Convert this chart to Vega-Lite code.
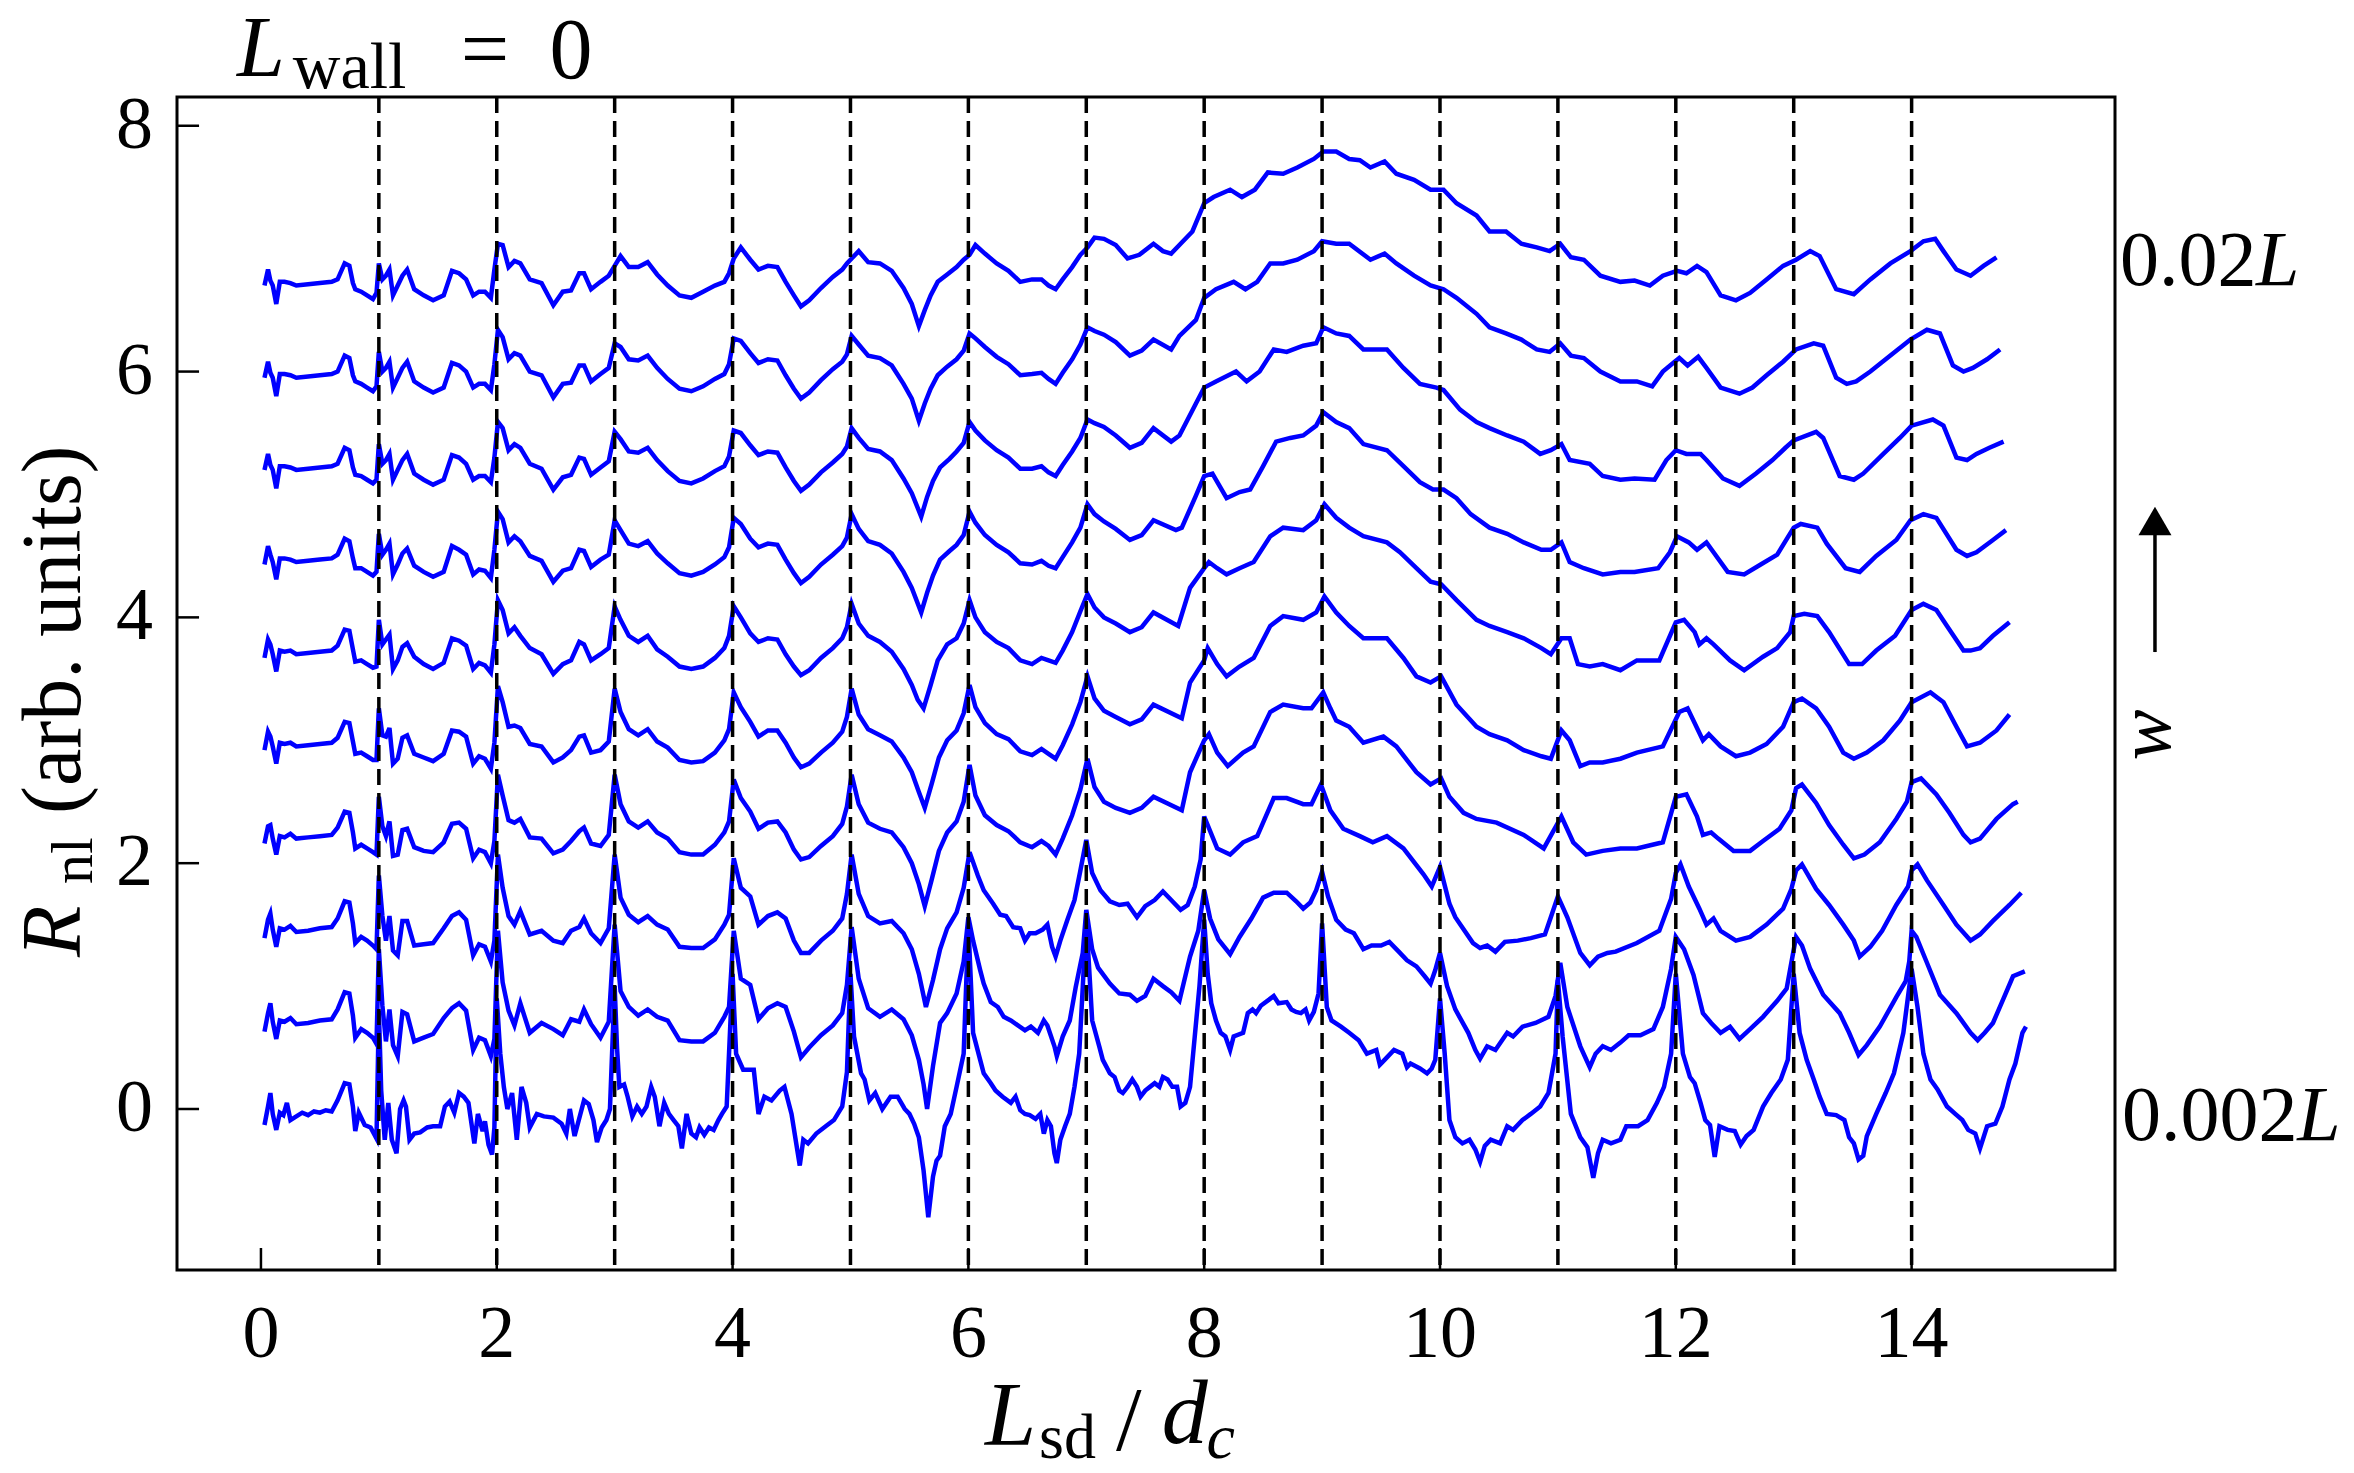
{
  "$schema": "https://vega.github.io/schema/vega-lite/v6.json",
  "width": 1938,
  "height": 1173,
  "autosize": {"type": "none"},
  "padding": {"left": 177, "top": 97, "right": 239, "bottom": 203},
  "background": "white",
  "datasets": {
    "integers": [{"n":1},{"n":2},{"n":3},{"n":4},{"n":5},{"n":6},{"n":7},{"n":8},{"n":9},{"n":10},{"n":11},{"n":12},{"n":13},{"n":14}],
    "xticks": [{"t":0},{"t":2},{"t":4},{"t":6},{"t":8},{"t":10},{"t":12},{"t":14}],
    "yticks": [{"t":0},{"t":2},{"t":4},{"t":6},{"t":8}],
    "curves": [
{"k":0,"x":0.03,"y":-0.13},{"k":0,"x":0.06,"y":0.02},{"k":0,"x":0.08,"y":0.13},{"k":0,"x":0.10,"y":-0.04},{"k":0,"x":0.13,"y":-0.17},{"k":0,"x":0.16,"y":-0.03},{"k":0,"x":0.19,"y":-0.05},{"k":0,"x":0.22,"y":0.05},{"k":0,"x":0.25,"y":-0.09},{"k":0,"x":0.30,"y":-0.06},{"k":0,"x":0.35,"y":-0.03},{"k":0,"x":0.40,"y":-0.05},{"k":0,"x":0.45,"y":-0.02},{"k":0,"x":0.50,"y":-0.03},{"k":0,"x":0.55,"y":-0.01},{"k":0,"x":0.60,"y":-0.02},{"k":0,"x":0.65,"y":0.07},{"k":0,"x":0.71,"y":0.21},{"k":0,"x":0.75,"y":0.20},{"k":0,"x":0.78,"y":0.02},{"k":0,"x":0.80,"y":-0.18},{"k":0,"x":0.83,"y":-0.03},{"k":0,"x":0.88,"y":-0.13},{"k":0,"x":0.93,"y":-0.15},{"k":0,"x":0.98,"y":-0.24},
{"k":0,"x":1.00,"y":0.80},{"k":0,"x":1.02,"y":0.15},{"k":0,"x":1.05,"y":-0.25},{"k":0,"x":1.08,"y":0.05},{"k":0,"x":1.11,"y":-0.25},{"k":0,"x":1.15,"y":-0.36},{"k":0,"x":1.18,"y":0.00},{"k":0,"x":1.21,"y":0.07},{"k":0,"x":1.23,"y":0.02},{"k":0,"x":1.26,"y":-0.25},{"k":0,"x":1.30,"y":-0.20},{"k":0,"x":1.35,"y":-0.19},{"k":0,"x":1.41,"y":-0.15},{"k":0,"x":1.46,"y":-0.14},{"k":0,"x":1.52,"y":-0.14},{"k":0,"x":1.56,"y":0.02},{"k":0,"x":1.60,"y":0.06},{"k":0,"x":1.64,"y":-0.03},{"k":0,"x":1.68,"y":0.13},{"k":0,"x":1.72,"y":0.10},{"k":0,"x":1.76,"y":0.05},{"k":0,"x":1.81,"y":-0.28},{"k":0,"x":1.84,"y":-0.04},{"k":0,"x":1.88,"y":-0.18},{"k":0,"x":1.90,"y":-0.10},{"k":0,"x":1.93,"y":-0.29},{"k":0,"x":1.96,"y":-0.37},{"k":0,"x":1.98,"y":-0.15},
{"k":0,"x":2.00,"y":0.90},{"k":0,"x":2.03,"y":0.45},{"k":0,"x":2.06,"y":0.18},{"k":0,"x":2.09,"y":0.00},{"k":0,"x":2.13,"y":0.13},{"k":0,"x":2.17,"y":-0.25},{"k":0,"x":2.21,"y":0.18},{"k":0,"x":2.25,"y":0.05},{"k":0,"x":2.28,"y":-0.15},{"k":0,"x":2.34,"y":-0.04},{"k":0,"x":2.40,"y":-0.06},{"k":0,"x":2.48,"y":-0.07},{"k":0,"x":2.55,"y":-0.12},{"k":0,"x":2.59,"y":-0.20},{"k":0,"x":2.62,"y":0.00},{"k":0,"x":2.66,"y":-0.22},{"k":0,"x":2.74,"y":0.07},{"k":0,"x":2.78,"y":0.04},{"k":0,"x":2.82,"y":-0.09},{"k":0,"x":2.85,"y":-0.27},{"k":0,"x":2.89,"y":-0.15},{"k":0,"x":2.93,"y":-0.09},{"k":0,"x":2.96,"y":0.00},
{"k":0,"x":3.00,"y":1.00},{"k":0,"x":3.02,"y":0.50},{"k":0,"x":3.04,"y":0.18},{"k":0,"x":3.08,"y":0.20},{"k":0,"x":3.11,"y":0.10},{"k":0,"x":3.15,"y":-0.06},{"k":0,"x":3.19,"y":0.02},{"k":0,"x":3.23,"y":-0.04},{"k":0,"x":3.27,"y":0.02},{"k":0,"x":3.31,"y":0.18},{"k":0,"x":3.34,"y":0.10},{"k":0,"x":3.38,"y":-0.14},{"k":0,"x":3.42,"y":0.05},{"k":0,"x":3.46,"y":-0.04},{"k":0,"x":3.50,"y":-0.09},{"k":0,"x":3.54,"y":-0.14},{"k":0,"x":3.57,"y":-0.32},{"k":0,"x":3.61,"y":-0.04},{"k":0,"x":3.65,"y":-0.20},{"k":0,"x":3.69,"y":-0.23},{"k":0,"x":3.72,"y":-0.15},{"k":0,"x":3.76,"y":-0.21},{"k":0,"x":3.80,"y":-0.15},{"k":0,"x":3.84,"y":-0.17},{"k":0,"x":3.88,"y":-0.09},{"k":0,"x":3.91,"y":-0.04},{"k":0,"x":3.95,"y":0.02},
{"k":0,"x":4.00,"y":1.10},{"k":0,"x":4.03,"y":0.45},{"k":0,"x":4.09,"y":0.32},{"k":0,"x":4.13,"y":0.32},{"k":0,"x":4.18,"y":0.32},{"k":0,"x":4.22,"y":-0.04},{"k":0,"x":4.27,"y":0.10},{"k":0,"x":4.33,"y":0.07},{"k":0,"x":4.40,"y":0.15},{"k":0,"x":4.44,"y":0.18},{"k":0,"x":4.50,"y":-0.04},{"k":0,"x":4.57,"y":-0.46},{"k":0,"x":4.60,"y":-0.25},{"k":0,"x":4.64,"y":-0.28},{"k":0,"x":4.71,"y":-0.20},{"k":0,"x":4.79,"y":-0.14},{"k":0,"x":4.86,"y":-0.09},{"k":0,"x":4.93,"y":0.02},{"k":0,"x":4.97,"y":0.30},
{"k":0,"x":5.00,"y":1.10},{"k":0,"x":5.03,"y":0.59},{"k":0,"x":5.09,"y":0.29},{"k":0,"x":5.12,"y":0.24},{"k":0,"x":5.16,"y":0.07},{"k":0,"x":5.21,"y":0.13},{"k":0,"x":5.27,"y":0.00},{"k":0,"x":5.34,"y":0.10},{"k":0,"x":5.40,"y":0.10},{"k":0,"x":5.46,"y":0.00},{"k":0,"x":5.50,"y":-0.04},{"k":0,"x":5.54,"y":-0.12},{"k":0,"x":5.58,"y":-0.23},{"k":0,"x":5.62,"y":-0.50},{"k":0,"x":5.66,"y":-0.88},{"k":0,"x":5.70,"y":-0.55},{"k":0,"x":5.73,"y":-0.42},{"k":0,"x":5.76,"y":-0.38},{"k":0,"x":5.80,"y":-0.14},{"k":0,"x":5.85,"y":-0.04},{"k":0,"x":5.90,"y":0.18},{"k":0,"x":5.96,"y":0.45},
{"k":0,"x":6.00,"y":1.50},{"k":0,"x":6.04,"y":0.62},{"k":0,"x":6.10,"y":0.40},{"k":0,"x":6.13,"y":0.29},{"k":0,"x":6.19,"y":0.21},{"k":0,"x":6.23,"y":0.15},{"k":0,"x":6.29,"y":0.10},{"k":0,"x":6.36,"y":0.05},{"k":0,"x":6.40,"y":0.10},{"k":0,"x":6.44,"y":-0.01},{"k":0,"x":6.48,"y":-0.04},{"k":0,"x":6.52,"y":-0.05},{"k":0,"x":6.57,"y":-0.08},{"k":0,"x":6.61,"y":-0.04},{"k":0,"x":6.64,"y":-0.20},{"k":0,"x":6.67,"y":-0.09},{"k":0,"x":6.70,"y":-0.14},{"k":0,"x":6.73,"y":-0.36},{"k":0,"x":6.75,"y":-0.44},{"k":0,"x":6.78,"y":-0.25},{"k":0,"x":6.82,"y":-0.14},{"k":0,"x":6.86,"y":-0.04},{"k":0,"x":6.90,"y":0.18},{"k":0,"x":6.94,"y":0.45},{"k":0,"x":6.97,"y":0.99},
{"k":0,"x":7.00,"y":1.55},{"k":0,"x":7.05,"y":0.72},{"k":0,"x":7.11,"y":0.51},{"k":0,"x":7.14,"y":0.40},{"k":0,"x":7.20,"y":0.29},{"k":0,"x":7.24,"y":0.26},{"k":0,"x":7.28,"y":0.15},{"k":0,"x":7.31,"y":0.13},{"k":0,"x":7.35,"y":0.18},{"k":0,"x":7.39,"y":0.24},{"k":0,"x":7.43,"y":0.18},{"k":0,"x":7.46,"y":0.10},{"k":0,"x":7.50,"y":0.15},{"k":0,"x":7.54,"y":0.18},{"k":0,"x":7.58,"y":0.21},{"k":0,"x":7.62,"y":0.18},{"k":0,"x":7.65,"y":0.26},{"k":0,"x":7.69,"y":0.24},{"k":0,"x":7.73,"y":0.18},{"k":0,"x":7.77,"y":0.18},{"k":0,"x":7.80,"y":0.02},{"k":0,"x":7.84,"y":0.05},{"k":0,"x":7.88,"y":0.18},{"k":0,"x":7.92,"y":0.59},{"k":0,"x":7.96,"y":1.00},
{"k":0,"x":8.00,"y":1.54},{"k":0,"x":8.03,"y":1.10},{"k":0,"x":8.06,"y":0.86},{"k":0,"x":8.10,"y":0.72},{"k":0,"x":8.14,"y":0.62},{"k":0,"x":8.18,"y":0.59},{"k":0,"x":8.22,"y":0.48},{"k":0,"x":8.25,"y":0.59},{"k":0,"x":8.33,"y":0.62},{"k":0,"x":8.37,"y":0.78},{"k":0,"x":8.41,"y":0.81},{"k":0,"x":8.44,"y":0.78},{"k":0,"x":8.48,"y":0.84},{"k":0,"x":8.55,"y":0.89},{"k":0,"x":8.59,"y":0.92},{"k":0,"x":8.63,"y":0.86},{"k":0,"x":8.70,"y":0.87},{"k":0,"x":8.74,"y":0.81},{"k":0,"x":8.78,"y":0.79},{"k":0,"x":8.82,"y":0.78},{"k":0,"x":8.86,"y":0.81},{"k":0,"x":8.89,"y":0.72},{"k":0,"x":8.93,"y":0.79},{"k":0,"x":8.97,"y":0.94},
{"k":0,"x":9.00,"y":1.51},{"k":0,"x":9.04,"y":0.83},{"k":0,"x":9.08,"y":0.72},{"k":0,"x":9.16,"y":0.67},{"k":0,"x":9.23,"y":0.62},{"k":0,"x":9.31,"y":0.56},{"k":0,"x":9.38,"y":0.45},{"k":0,"x":9.46,"y":0.48},{"k":0,"x":9.49,"y":0.36},{"k":0,"x":9.53,"y":0.40},{"k":0,"x":9.61,"y":0.48},{"k":0,"x":9.68,"y":0.45},{"k":0,"x":9.72,"y":0.34},{"k":0,"x":9.75,"y":0.37},{"k":0,"x":9.83,"y":0.33},{"k":0,"x":9.89,"y":0.29},{"k":0,"x":9.93,"y":0.33},{"k":0,"x":9.96,"y":0.40},
{"k":0,"x":10.00,"y":0.90},{"k":0,"x":10.04,"y":0.45},{"k":0,"x":10.08,"y":-0.09},{"k":0,"x":10.13,"y":-0.23},{"k":0,"x":10.19,"y":-0.28},{"k":0,"x":10.25,"y":-0.25},{"k":0,"x":10.30,"y":-0.33},{"k":0,"x":10.34,"y":-0.43},{"k":0,"x":10.38,"y":-0.30},{"k":0,"x":10.43,"y":-0.25},{"k":0,"x":10.51,"y":-0.28},{"k":0,"x":10.57,"y":-0.14},{"k":0,"x":10.62,"y":-0.17},{"k":0,"x":10.70,"y":-0.09},{"k":0,"x":10.77,"y":-0.04},{"k":0,"x":10.85,"y":0.02},{"k":0,"x":10.92,"y":0.13},{"k":0,"x":10.98,"y":0.45},
{"k":0,"x":11.00,"y":1.05},{"k":0,"x":11.04,"y":0.59},{"k":0,"x":11.11,"y":-0.04},{"k":0,"x":11.19,"y":-0.23},{"k":0,"x":11.25,"y":-0.31},{"k":0,"x":11.30,"y":-0.56},{"k":0,"x":11.34,"y":-0.36},{"k":0,"x":11.38,"y":-0.25},{"k":0,"x":11.45,"y":-0.28},{"k":0,"x":11.53,"y":-0.25},{"k":0,"x":11.58,"y":-0.14},{"k":0,"x":11.68,"y":-0.14},{"k":0,"x":11.76,"y":-0.09},{"k":0,"x":11.84,"y":0.05},{"k":0,"x":11.90,"y":0.18},{"k":0,"x":11.96,"y":0.45},
{"k":0,"x":12.00,"y":1.10},{"k":0,"x":12.06,"y":0.45},{"k":0,"x":12.12,"y":0.26},{"k":0,"x":12.16,"y":0.21},{"k":0,"x":12.21,"y":0.05},{"k":0,"x":12.25,"y":-0.09},{"k":0,"x":12.29,"y":-0.13},{"k":0,"x":12.33,"y":-0.39},{"k":0,"x":12.37,"y":-0.14},{"k":0,"x":12.44,"y":-0.17},{"k":0,"x":12.50,"y":-0.18},{"k":0,"x":12.55,"y":-0.29},{"k":0,"x":12.60,"y":-0.22},{"k":0,"x":12.66,"y":-0.17},{"k":0,"x":12.74,"y":0.02},{"k":0,"x":12.81,"y":0.13},{"k":0,"x":12.89,"y":0.24},{"k":0,"x":12.95,"y":0.40},
{"k":0,"x":13.00,"y":1.10},{"k":0,"x":13.05,"y":0.62},{"k":0,"x":13.11,"y":0.40},{"k":0,"x":13.17,"y":0.24},{"k":0,"x":13.22,"y":0.10},{"k":0,"x":13.28,"y":-0.04},{"k":0,"x":13.36,"y":-0.05},{"k":0,"x":13.43,"y":-0.09},{"k":0,"x":13.47,"y":-0.23},{"k":0,"x":13.51,"y":-0.28},{"k":0,"x":13.55,"y":-0.41},{"k":0,"x":13.59,"y":-0.38},{"k":0,"x":13.62,"y":-0.22},{"k":0,"x":13.70,"y":-0.04},{"k":0,"x":13.78,"y":0.13},{"k":0,"x":13.85,"y":0.29},{"k":0,"x":13.93,"y":0.62},
{"k":0,"x":14.00,"y":1.14},{"k":0,"x":14.05,"y":0.83},{"k":0,"x":14.10,"y":0.45},{"k":0,"x":14.16,"y":0.24},{"k":0,"x":14.22,"y":0.16},{"k":0,"x":14.30,"y":0.02},{"k":0,"x":14.37,"y":-0.04},{"k":0,"x":14.43,"y":-0.09},{"k":0,"x":14.48,"y":-0.17},{"k":0,"x":14.54,"y":-0.20},{"k":0,"x":14.58,"y":-0.32},{"k":0,"x":14.64,"y":-0.14},{"k":0,"x":14.71,"y":-0.12},{"k":0,"x":14.77,"y":0.02},{"k":0,"x":14.83,"y":0.24},{"k":0,"x":14.88,"y":0.37},{"k":0,"x":14.94,"y":0.62},{"k":0,"x":14.97,"y":0.67},

{"k":1,"x":0.03,"y":0.63},{"k":1,"x":0.06,"y":0.78},{"k":1,"x":0.08,"y":0.86},{"k":1,"x":0.10,"y":0.71},{"k":1,"x":0.13,"y":0.57},{"k":1,"x":0.16,"y":0.72},{"k":1,"x":0.20,"y":0.71},{"k":1,"x":0.25,"y":0.74},{"k":1,"x":0.30,"y":0.69},{"k":1,"x":0.40,"y":0.70},{"k":1,"x":0.50,"y":0.72},{"k":1,"x":0.60,"y":0.73},{"k":1,"x":0.65,"y":0.81},{"k":1,"x":0.71,"y":0.95},{"k":1,"x":0.75,"y":0.94},{"k":1,"x":0.78,"y":0.76},{"k":1,"x":0.80,"y":0.58},{"k":1,"x":0.85,"y":0.65},{"k":1,"x":0.90,"y":0.62},{"k":1,"x":0.95,"y":0.58},{"k":1,"x":0.98,"y":0.53},
{"k":1,"x":1.00,"y":1.30},{"k":1,"x":1.03,"y":0.84},{"k":1,"x":1.06,"y":0.55},{"k":1,"x":1.09,"y":0.81},{"k":1,"x":1.12,"y":0.52},{"k":1,"x":1.16,"y":0.43},{"k":1,"x":1.20,"y":0.79},{"k":1,"x":1.24,"y":0.77},{"k":1,"x":1.30,"y":0.55},{"k":1,"x":1.38,"y":0.58},{"k":1,"x":1.46,"y":0.61},{"k":1,"x":1.55,"y":0.74},{"k":1,"x":1.62,"y":0.82},{"k":1,"x":1.68,"y":0.86},{"k":1,"x":1.74,"y":0.80},{"k":1,"x":1.80,"y":0.48},{"k":1,"x":1.85,"y":0.58},{"k":1,"x":1.90,"y":0.56},{"k":1,"x":1.95,"y":0.43},{"k":1,"x":1.98,"y":0.57},
{"k":1,"x":2.01,"y":1.45},{"k":1,"x":2.05,"y":1.03},{"k":1,"x":2.10,"y":0.80},{"k":1,"x":2.15,"y":0.68},{"k":1,"x":2.20,"y":0.86},{"k":1,"x":2.28,"y":0.62},{"k":1,"x":2.38,"y":0.70},{"k":1,"x":2.48,"y":0.65},{"k":1,"x":2.56,"y":0.60},{"k":1,"x":2.63,"y":0.73},{"k":1,"x":2.70,"y":0.71},{"k":1,"x":2.74,"y":0.81},{"k":1,"x":2.80,"y":0.69},{"k":1,"x":2.88,"y":0.58},{"k":1,"x":2.95,"y":0.71},
{"k":1,"x":3.00,"y":1.50},{"k":1,"x":3.05,"y":0.96},{"k":1,"x":3.12,"y":0.83},{"k":1,"x":3.20,"y":0.76},{"k":1,"x":3.28,"y":0.81},{"k":1,"x":3.36,"y":0.75},{"k":1,"x":3.45,"y":0.72},{"k":1,"x":3.55,"y":0.56},{"k":1,"x":3.65,"y":0.55},{"k":1,"x":3.75,"y":0.55},{"k":1,"x":3.85,"y":0.62},{"k":1,"x":3.93,"y":0.75},{"k":1,"x":3.97,"y":0.83},
{"k":1,"x":4.01,"y":1.45},{"k":1,"x":4.07,"y":1.06},{"k":1,"x":4.15,"y":1.01},{"k":1,"x":4.22,"y":0.73},{"k":1,"x":4.30,"y":0.82},{"k":1,"x":4.38,"y":0.86},{"k":1,"x":4.45,"y":0.83},{"k":1,"x":4.52,"y":0.63},{"k":1,"x":4.58,"y":0.42},{"k":1,"x":4.65,"y":0.50},{"k":1,"x":4.75,"y":0.60},{"k":1,"x":4.85,"y":0.68},{"k":1,"x":4.93,"y":0.78},{"k":1,"x":4.97,"y":1.01},
{"k":1,"x":5.01,"y":1.48},{"k":1,"x":5.07,"y":1.06},{"k":1,"x":5.15,"y":0.82},{"k":1,"x":5.25,"y":0.75},{"k":1,"x":5.35,"y":0.81},{"k":1,"x":5.45,"y":0.73},{"k":1,"x":5.52,"y":0.60},{"k":1,"x":5.58,"y":0.40},{"k":1,"x":5.62,"y":0.20},{"k":1,"x":5.65,"y":0.00},{"k":1,"x":5.70,"y":0.35},{"k":1,"x":5.76,"y":0.70},{"k":1,"x":5.82,"y":0.78},{"k":1,"x":5.90,"y":0.94},{"k":1,"x":5.96,"y":1.20},
{"k":1,"x":6.00,"y":1.56},{"k":1,"x":6.04,"y":1.37},{"k":1,"x":6.10,"y":1.13},{"k":1,"x":6.13,"y":1.02},{"k":1,"x":6.19,"y":0.87},{"k":1,"x":6.25,"y":0.83},{"k":1,"x":6.30,"y":0.75},{"k":1,"x":6.36,"y":0.72},{"k":1,"x":6.42,"y":0.68},{"k":1,"x":6.48,"y":0.64},{"k":1,"x":6.53,"y":0.67},{"k":1,"x":6.59,"y":0.62},{"k":1,"x":6.64,"y":0.72},{"k":1,"x":6.67,"y":0.68},{"k":1,"x":6.73,"y":0.51},{"k":1,"x":6.75,"y":0.43},{"k":1,"x":6.80,"y":0.59},{"k":1,"x":6.86,"y":0.72},{"k":1,"x":6.91,"y":0.99},{"k":1,"x":6.97,"y":1.27},
{"k":1,"x":7.00,"y":1.62},{"k":1,"x":7.05,"y":1.30},{"k":1,"x":7.10,"y":1.15},{"k":1,"x":7.20,"y":1.02},{"k":1,"x":7.28,"y":0.94},{"k":1,"x":7.37,"y":0.93},{"k":1,"x":7.43,"y":0.88},{"k":1,"x":7.50,"y":0.92},{"k":1,"x":7.57,"y":1.06},{"k":1,"x":7.65,"y":1.00},{"k":1,"x":7.72,"y":0.95},{"k":1,"x":7.79,"y":0.88},{"k":1,"x":7.88,"y":1.24},{"k":1,"x":7.95,"y":1.45},{"k":1,"x":8.00,"y":1.78},
{"k":1,"x":8.05,"y":1.55},{"k":1,"x":8.12,"y":1.38},{"k":1,"x":8.22,"y":1.26},{"k":1,"x":8.30,"y":1.40},{"k":1,"x":8.40,"y":1.55},{"k":1,"x":8.50,"y":1.72},{"k":1,"x":8.59,"y":1.76},{"k":1,"x":8.70,"y":1.76},{"k":1,"x":8.78,"y":1.69},{"k":1,"x":8.84,"y":1.63},{"k":1,"x":8.90,"y":1.68},{"k":1,"x":8.95,"y":1.78},{"k":1,"x":9.00,"y":1.93},
{"k":1,"x":9.05,"y":1.73},{"k":1,"x":9.12,"y":1.54},{"k":1,"x":9.20,"y":1.46},{"k":1,"x":9.27,"y":1.43},{"k":1,"x":9.35,"y":1.30},{"k":1,"x":9.42,"y":1.33},{"k":1,"x":9.50,"y":1.33},{"k":1,"x":9.57,"y":1.36},{"k":1,"x":9.65,"y":1.28},{"k":1,"x":9.72,"y":1.21},{"k":1,"x":9.80,"y":1.16},{"k":1,"x":9.87,"y":1.08},{"k":1,"x":9.92,"y":1.02},{"k":1,"x":9.96,"y":1.13},{"k":1,"x":10.00,"y":1.27},
{"k":1,"x":10.06,"y":1.00},{"k":1,"x":10.13,"y":0.81},{"k":1,"x":10.24,"y":0.62},{"k":1,"x":10.30,"y":0.48},{"k":1,"x":10.34,"y":0.41},{"k":1,"x":10.40,"y":0.51},{"k":1,"x":10.47,"y":0.48},{"k":1,"x":10.57,"y":0.62},{"k":1,"x":10.62,"y":0.59},{"k":1,"x":10.70,"y":0.67},{"k":1,"x":10.81,"y":0.70},{"k":1,"x":10.92,"y":0.75},{"k":1,"x":10.98,"y":0.92},{"k":1,"x":11.02,"y":1.19},
{"k":1,"x":11.08,"y":0.83},{"k":1,"x":11.19,"y":0.51},{"k":1,"x":11.27,"y":0.34},{"k":1,"x":11.32,"y":0.45},{"k":1,"x":11.38,"y":0.51},{"k":1,"x":11.45,"y":0.48},{"k":1,"x":11.53,"y":0.54},{"k":1,"x":11.60,"y":0.60},
{"k":1,"x":11.70,"y":0.60},{"k":1,"x":11.81,"y":0.65},{"k":1,"x":11.89,"y":0.83},{"k":1,"x":11.96,"y":1.14},{"k":1,"x":12.00,"y":1.40},{"k":1,"x":12.07,"y":1.30},{"k":1,"x":12.15,"y":1.09},{"k":1,"x":12.23,"y":0.78},{"k":1,"x":12.30,"y":0.70},{"k":1,"x":12.38,"y":0.62},{"k":1,"x":12.46,"y":0.67},{"k":1,"x":12.54,"y":0.57},{"k":1,"x":12.63,"y":0.65},{"k":1,"x":12.74,"y":0.75},{"k":1,"x":12.86,"y":0.88},{"k":1,"x":12.94,"y":0.98},{"k":1,"x":12.98,"y":1.19},{"k":1,"x":13.02,"y":1.40},{"k":1,"x":13.07,"y":1.33},{"k":1,"x":13.14,"y":1.14},{"k":1,"x":13.25,"y":0.93},{"k":1,"x":13.39,"y":0.78},{"k":1,"x":13.47,"y":0.62},{"k":1,"x":13.55,"y":0.44},{"k":1,"x":13.62,"y":0.52},{"k":1,"x":13.73,"y":0.67},{"k":1,"x":13.87,"y":0.91},{"k":1,"x":13.95,"y":1.04},{"k":1,"x":13.98,"y":1.20},{"k":1,"x":14.00,"y":1.45},{"k":1,"x":14.04,"y":1.40},{"k":1,"x":14.13,"y":1.19},{"k":1,"x":14.24,"y":0.93},{"k":1,"x":14.38,"y":0.78},{"k":1,"x":14.50,"y":0.62},{"k":1,"x":14.56,"y":0.56},{"k":1,"x":14.62,"y":0.62},{"k":1,"x":14.69,"y":0.70},{"k":1,"x":14.78,"y":0.90},{"k":1,"x":14.86,"y":1.08},{"k":1,"x":14.96,"y":1.12},

{"k":2,"x":0.03,"y":1.39},{"k":2,"x":0.06,"y":1.54},{"k":2,"x":0.08,"y":1.59},{"k":2,"x":0.10,"y":1.46},{"k":2,"x":0.13,"y":1.32},{"k":2,"x":0.16,"y":1.47},{"k":2,"x":0.20,"y":1.46},{"k":2,"x":0.25,"y":1.49},{"k":2,"x":0.30,"y":1.44},{"k":2,"x":0.40,"y":1.45},{"k":2,"x":0.50,"y":1.47},{"k":2,"x":0.60,"y":1.48},{"k":2,"x":0.65,"y":1.55},{"k":2,"x":0.71,"y":1.69},{"k":2,"x":0.75,"y":1.68},{"k":2,"x":0.78,"y":1.51},{"k":2,"x":0.80,"y":1.35},{"k":2,"x":0.85,"y":1.40},{"k":2,"x":0.90,"y":1.37},{"k":2,"x":0.95,"y":1.33},{"k":2,"x":0.98,"y":1.30},
{"k":2,"x":1.00,"y":1.90},{"k":2,"x":1.03,"y":1.57},{"k":2,"x":1.06,"y":1.37},{"k":2,"x":1.09,"y":1.57},{"k":2,"x":1.12,"y":1.29},{"k":2,"x":1.16,"y":1.25},{"k":2,"x":1.20,"y":1.53},{"k":2,"x":1.24,"y":1.53},{"k":2,"x":1.30,"y":1.33},{"k":2,"x":1.38,"y":1.34},{"k":2,"x":1.46,"y":1.35},{"k":2,"x":1.55,"y":1.47},{"k":2,"x":1.62,"y":1.57},{"k":2,"x":1.68,"y":1.60},{"k":2,"x":1.74,"y":1.54},{"k":2,"x":1.80,"y":1.25},{"k":2,"x":1.85,"y":1.34},{"k":2,"x":1.90,"y":1.32},{"k":2,"x":1.95,"y":1.20},{"k":2,"x":1.98,"y":1.37},
{"k":2,"x":2.01,"y":2.07},{"k":2,"x":2.05,"y":1.80},{"k":2,"x":2.10,"y":1.57},{"k":2,"x":2.15,"y":1.50},{"k":2,"x":2.20,"y":1.61},{"k":2,"x":2.28,"y":1.42},{"k":2,"x":2.38,"y":1.45},{"k":2,"x":2.48,"y":1.37},{"k":2,"x":2.56,"y":1.35},{"k":2,"x":2.63,"y":1.45},{"k":2,"x":2.70,"y":1.48},{"k":2,"x":2.74,"y":1.55},{"k":2,"x":2.80,"y":1.43},{"k":2,"x":2.88,"y":1.35},{"k":2,"x":2.95,"y":1.47},
{"k":2,"x":3.00,"y":2.07},{"k":2,"x":3.05,"y":1.72},{"k":2,"x":3.12,"y":1.58},{"k":2,"x":3.20,"y":1.52},{"k":2,"x":3.28,"y":1.57},{"k":2,"x":3.36,"y":1.50},{"k":2,"x":3.45,"y":1.46},{"k":2,"x":3.55,"y":1.32},{"k":2,"x":3.65,"y":1.31},{"k":2,"x":3.75,"y":1.31},{"k":2,"x":3.85,"y":1.38},{"k":2,"x":3.93,"y":1.50},{"k":2,"x":3.97,"y":1.58},
{"k":2,"x":4.01,"y":2.04},{"k":2,"x":4.07,"y":1.80},{"k":2,"x":4.15,"y":1.73},{"k":2,"x":4.22,"y":1.50},{"k":2,"x":4.30,"y":1.57},{"k":2,"x":4.38,"y":1.60},{"k":2,"x":4.45,"y":1.55},{"k":2,"x":4.52,"y":1.37},{"k":2,"x":4.58,"y":1.27},{"k":2,"x":4.65,"y":1.27},{"k":2,"x":4.75,"y":1.37},{"k":2,"x":4.85,"y":1.45},{"k":2,"x":4.93,"y":1.55},{"k":2,"x":4.97,"y":1.75},
{"k":2,"x":5.01,"y":2.07},{"k":2,"x":5.07,"y":1.75},{"k":2,"x":5.15,"y":1.57},{"k":2,"x":5.25,"y":1.51},{"k":2,"x":5.35,"y":1.53},{"k":2,"x":5.45,"y":1.43},{"k":2,"x":5.52,"y":1.30},{"k":2,"x":5.58,"y":1.10},{"k":2,"x":5.64,"y":0.83},{"k":2,"x":5.70,"y":1.05},{"k":2,"x":5.76,"y":1.30},{"k":2,"x":5.82,"y":1.47},{"k":2,"x":5.90,"y":1.60},{"k":2,"x":5.96,"y":1.80},
{"k":2,"x":6.01,"y":2.09},{"k":2,"x":6.08,"y":1.90},{"k":2,"x":6.13,"y":1.78},{"k":2,"x":6.21,"y":1.67},{"k":2,"x":6.27,"y":1.58},{"k":2,"x":6.32,"y":1.57},{"k":2,"x":6.38,"y":1.48},{"k":2,"x":6.44,"y":1.47},{"k":2,"x":6.48,"y":1.37},{"k":2,"x":6.52,"y":1.43},{"k":2,"x":6.57,"y":1.43},{"k":2,"x":6.63,"y":1.46},{"k":2,"x":6.67,"y":1.50},{"k":2,"x":6.71,"y":1.32},{"k":2,"x":6.74,"y":1.24},{"k":2,"x":6.78,"y":1.37},{"k":2,"x":6.84,"y":1.54},{"k":2,"x":6.90,"y":1.70},{"k":2,"x":6.95,"y":1.94},
{"k":2,"x":7.00,"y":2.19},{"k":2,"x":7.05,"y":1.92},{"k":2,"x":7.12,"y":1.78},{"k":2,"x":7.20,"y":1.69},{"k":2,"x":7.28,"y":1.66},{"k":2,"x":7.35,"y":1.67},{"k":2,"x":7.43,"y":1.56},{"k":2,"x":7.50,"y":1.65},{"k":2,"x":7.58,"y":1.70},{"k":2,"x":7.65,"y":1.77},{"k":2,"x":7.72,"y":1.70},{"k":2,"x":7.80,"y":1.62},{"k":2,"x":7.86,"y":1.66},{"k":2,"x":7.92,"y":1.81},{"k":2,"x":7.97,"y":2.03},{"k":2,"x":8.00,"y":2.38},
{"k":2,"x":8.11,"y":2.12},{"k":2,"x":8.22,"y":2.07},{"k":2,"x":8.33,"y":2.17},{"k":2,"x":8.45,"y":2.22},{"k":2,"x":8.59,"y":2.53},{"k":2,"x":8.70,"y":2.53},{"k":2,"x":8.84,"y":2.48},{"k":2,"x":8.91,"y":2.48},{"k":2,"x":8.99,"y":2.64},{"k":2,"x":9.07,"y":2.43},{"k":2,"x":9.18,"y":2.28},{"k":2,"x":9.32,"y":2.22},{"k":2,"x":9.43,"y":2.17},{"k":2,"x":9.55,"y":2.22},{"k":2,"x":9.69,"y":2.12},{"k":2,"x":9.86,"y":1.91},{"k":2,"x":9.93,"y":1.81},{"k":2,"x":10.00,"y":1.97},{"k":2,"x":10.08,"y":1.67},{"k":2,"x":10.13,"y":1.56},{"k":2,"x":10.28,"y":1.35},{"k":2,"x":10.34,"y":1.31},{"k":2,"x":10.40,"y":1.33},{"k":2,"x":10.47,"y":1.28},{"k":2,"x":10.55,"y":1.36},{"k":2,"x":10.66,"y":1.37},{"k":2,"x":10.77,"y":1.39},{"k":2,"x":10.89,"y":1.42},{"k":2,"x":10.94,"y":1.56},{"k":2,"x":11.00,"y":1.73},{"k":2,"x":11.08,"y":1.56},{"k":2,"x":11.19,"y":1.27},{"k":2,"x":11.27,"y":1.17},{"k":2,"x":11.34,"y":1.24},{"k":2,"x":11.42,"y":1.27},{"k":2,"x":11.49,"y":1.28},
{"k":2,"x":11.67,"y":1.35},{"k":2,"x":11.86,"y":1.45},{"k":2,"x":11.96,"y":1.71},{"k":2,"x":12.00,"y":1.92},{"k":2,"x":12.04,"y":1.99},{"k":2,"x":12.11,"y":1.81},{"k":2,"x":12.20,"y":1.63},{"k":2,"x":12.26,"y":1.50},{"k":2,"x":12.32,"y":1.55},{"k":2,"x":12.38,"y":1.45},{"k":2,"x":12.51,"y":1.37},{"k":2,"x":12.63,"y":1.40},{"k":2,"x":12.77,"y":1.50},{"k":2,"x":12.91,"y":1.63},{"k":2,"x":12.98,"y":1.79},{"k":2,"x":13.02,"y":1.94},{"k":2,"x":13.07,"y":1.99},{"k":2,"x":13.19,"y":1.79},{"k":2,"x":13.30,"y":1.66},{"k":2,"x":13.42,"y":1.50},{"k":2,"x":13.51,"y":1.37},{"k":2,"x":13.56,"y":1.24},{"k":2,"x":13.65,"y":1.32},{"k":2,"x":13.75,"y":1.45},{"k":2,"x":13.87,"y":1.66},{"k":2,"x":13.97,"y":1.81},{"k":2,"x":14.00,"y":1.94},{"k":2,"x":14.05,"y":1.99},{"k":2,"x":14.13,"y":1.86},{"k":2,"x":14.27,"y":1.66},{"k":2,"x":14.38,"y":1.50},{"k":2,"x":14.50,"y":1.37},{"k":2,"x":14.58,"y":1.42},{"k":2,"x":14.69,"y":1.53},{"k":2,"x":14.83,"y":1.66},{"k":2,"x":14.93,"y":1.76},

{"k":3,"x":0.03,"y":2.16},{"k":3,"x":0.06,"y":2.30},{"k":3,"x":0.08,"y":2.31},{"k":3,"x":0.10,"y":2.20},{"k":3,"x":0.13,"y":2.07},{"k":3,"x":0.16,"y":2.22},{"k":3,"x":0.20,"y":2.21},{"k":3,"x":0.25,"y":2.24},{"k":3,"x":0.30,"y":2.20},{"k":3,"x":0.40,"y":2.21},{"k":3,"x":0.50,"y":2.22},{"k":3,"x":0.60,"y":2.23},{"k":3,"x":0.65,"y":2.29},{"k":3,"x":0.71,"y":2.42},{"k":3,"x":0.75,"y":2.41},{"k":3,"x":0.78,"y":2.25},{"k":3,"x":0.80,"y":2.12},{"k":3,"x":0.85,"y":2.15},{"k":3,"x":0.90,"y":2.12},{"k":3,"x":0.95,"y":2.09},{"k":3,"x":0.98,"y":2.07},
{"k":3,"x":1.00,"y":2.54},{"k":3,"x":1.03,"y":2.30},{"k":3,"x":1.06,"y":2.22},{"k":3,"x":1.09,"y":2.34},{"k":3,"x":1.12,"y":2.06},{"k":3,"x":1.16,"y":2.07},{"k":3,"x":1.20,"y":2.27},{"k":3,"x":1.24,"y":2.28},{"k":3,"x":1.30,"y":2.13},{"k":3,"x":1.38,"y":2.10},{"k":3,"x":1.46,"y":2.09},{"k":3,"x":1.55,"y":2.17},{"k":3,"x":1.62,"y":2.32},{"k":3,"x":1.68,"y":2.33},{"k":3,"x":1.74,"y":2.28},{"k":3,"x":1.80,"y":2.04},{"k":3,"x":1.85,"y":2.11},{"k":3,"x":1.90,"y":2.09},{"k":3,"x":1.95,"y":2.00},{"k":3,"x":1.98,"y":2.18},
{"k":3,"x":2.01,"y":2.72},{"k":3,"x":2.05,"y":2.55},{"k":3,"x":2.10,"y":2.35},{"k":3,"x":2.15,"y":2.33},{"k":3,"x":2.20,"y":2.36},{"k":3,"x":2.28,"y":2.21},{"k":3,"x":2.38,"y":2.20},{"k":3,"x":2.48,"y":2.08},{"k":3,"x":2.56,"y":2.11},{"k":3,"x":2.63,"y":2.18},{"k":3,"x":2.70,"y":2.26},{"k":3,"x":2.74,"y":2.29},{"k":3,"x":2.80,"y":2.16},{"k":3,"x":2.88,"y":2.14},{"k":3,"x":2.95,"y":2.23},
{"k":3,"x":3.00,"y":2.72},{"k":3,"x":3.05,"y":2.48},{"k":3,"x":3.12,"y":2.34},{"k":3,"x":3.20,"y":2.29},{"k":3,"x":3.28,"y":2.34},{"k":3,"x":3.36,"y":2.25},{"k":3,"x":3.45,"y":2.20},{"k":3,"x":3.55,"y":2.09},{"k":3,"x":3.65,"y":2.07},{"k":3,"x":3.75,"y":2.07},{"k":3,"x":3.85,"y":2.15},{"k":3,"x":3.93,"y":2.25},{"k":3,"x":3.97,"y":2.34},
{"k":3,"x":4.01,"y":2.68},{"k":3,"x":4.07,"y":2.53},{"k":3,"x":4.15,"y":2.42},{"k":3,"x":4.22,"y":2.28},{"k":3,"x":4.30,"y":2.33},{"k":3,"x":4.38,"y":2.34},{"k":3,"x":4.45,"y":2.25},{"k":3,"x":4.52,"y":2.11},{"k":3,"x":4.58,"y":2.03},{"k":3,"x":4.65,"y":2.05},{"k":3,"x":4.75,"y":2.14},{"k":3,"x":4.85,"y":2.22},{"k":3,"x":4.93,"y":2.32},{"k":3,"x":4.97,"y":2.46},
{"k":3,"x":5.01,"y":2.72},{"k":3,"x":5.07,"y":2.48},{"k":3,"x":5.15,"y":2.33},{"k":3,"x":5.25,"y":2.28},{"k":3,"x":5.35,"y":2.25},{"k":3,"x":5.45,"y":2.13},{"k":3,"x":5.52,"y":2.00},{"k":3,"x":5.58,"y":1.83},{"k":3,"x":5.63,"y":1.65},{"k":3,"x":5.69,"y":1.87},{"k":3,"x":5.75,"y":2.10},{"k":3,"x":5.82,"y":2.25},{"k":3,"x":5.90,"y":2.34},{"k":3,"x":5.96,"y":2.50},
{"k":3,"x":6.01,"y":2.80},{"k":3,"x":6.06,"y":2.55},{"k":3,"x":6.14,"y":2.39},{"k":3,"x":6.24,"y":2.31},{"k":3,"x":6.34,"y":2.26},{"k":3,"x":6.44,"y":2.17},{"k":3,"x":6.54,"y":2.13},{"k":3,"x":6.62,"y":2.18},{"k":3,"x":6.68,"y":2.14},{"k":3,"x":6.74,"y":2.07},{"k":3,"x":6.80,"y":2.20},{"k":3,"x":6.88,"y":2.39},{"k":3,"x":6.95,"y":2.60},
{"k":3,"x":7.01,"y":2.85},{"k":3,"x":7.07,"y":2.62},{"k":3,"x":7.15,"y":2.50},{"k":3,"x":7.25,"y":2.45},{"k":3,"x":7.37,"y":2.41},{"k":3,"x":7.47,"y":2.45},{"k":3,"x":7.57,"y":2.54},{"k":3,"x":7.81,"y":2.43},{"k":3,"x":7.88,"y":2.74},{"k":3,"x":8.00,"y":3.00},{"k":3,"x":8.04,"y":3.05},
{"k":3,"x":8.11,"y":2.90},{"k":3,"x":8.20,"y":2.79},{"k":3,"x":8.33,"y":2.90},{"k":3,"x":8.42,"y":2.95},{"k":3,"x":8.56,"y":3.23},{"k":3,"x":8.67,"y":3.29},{"k":3,"x":8.84,"y":3.26},{"k":3,"x":8.91,"y":3.26},{"k":3,"x":9.01,"y":3.39},{"k":3,"x":9.07,"y":3.26},{"k":3,"x":9.12,"y":3.16},{"k":3,"x":9.23,"y":3.11},{"k":3,"x":9.35,"y":2.98},{"k":3,"x":9.52,"y":3.03},{"k":3,"x":9.63,"y":2.95},{"k":3,"x":9.80,"y":2.74},{"k":3,"x":9.92,"y":2.64},{"k":3,"x":10.01,"y":2.69},{"k":3,"x":10.08,"y":2.54},{"k":3,"x":10.20,"y":2.41},{"k":3,"x":10.31,"y":2.36},{"k":3,"x":10.48,"y":2.33},{"k":3,"x":10.71,"y":2.23},{"k":3,"x":10.88,"y":2.12},{"k":3,"x":11.03,"y":2.38},{"k":3,"x":11.13,"y":2.17},{"k":3,"x":11.24,"y":2.07},{"k":3,"x":11.38,"y":2.10},{"k":3,"x":11.53,"y":2.12},
{"k":3,"x":11.67,"y":2.12},{"k":3,"x":11.89,"y":2.17},{"k":3,"x":12.00,"y":2.54},{"k":3,"x":12.09,"y":2.56},{"k":3,"x":12.18,"y":2.38},{"k":3,"x":12.23,"y":2.23},{"k":3,"x":12.30,"y":2.25},{"k":3,"x":12.36,"y":2.20},{"k":3,"x":12.49,"y":2.10},{"k":3,"x":12.63,"y":2.10},{"k":3,"x":12.74,"y":2.18},{"k":3,"x":12.88,"y":2.28},{"k":3,"x":12.98,"y":2.43},{"k":3,"x":13.02,"y":2.61},{"k":3,"x":13.07,"y":2.64},{"k":3,"x":13.19,"y":2.49},{"k":3,"x":13.30,"y":2.31},{"k":3,"x":13.42,"y":2.15},{"k":3,"x":13.51,"y":2.04},{"k":3,"x":13.60,"y":2.07},{"k":3,"x":13.73,"y":2.17},{"k":3,"x":13.87,"y":2.36},{"k":3,"x":13.96,"y":2.50},{"k":3,"x":14.00,"y":2.66},{"k":3,"x":14.08,"y":2.69},{"k":3,"x":14.21,"y":2.56},{"k":3,"x":14.32,"y":2.41},{"k":3,"x":14.44,"y":2.23},{"k":3,"x":14.50,"y":2.17},{"k":3,"x":14.58,"y":2.20},{"k":3,"x":14.72,"y":2.36},{"k":3,"x":14.86,"y":2.48},{"k":3,"x":14.90,"y":2.50},

{"k":4,"x":0.03,"y":2.92},{"k":4,"x":0.06,"y":3.07},{"k":4,"x":0.08,"y":3.03},{"k":4,"x":0.10,"y":2.95},{"k":4,"x":0.13,"y":2.81},{"k":4,"x":0.16,"y":2.98},{"k":4,"x":0.20,"y":2.97},{"k":4,"x":0.25,"y":2.98},{"k":4,"x":0.30,"y":2.95},{"k":4,"x":0.40,"y":2.96},{"k":4,"x":0.50,"y":2.97},{"k":4,"x":0.60,"y":2.98},{"k":4,"x":0.65,"y":3.02},{"k":4,"x":0.71,"y":3.15},{"k":4,"x":0.75,"y":3.14},{"k":4,"x":0.78,"y":2.99},{"k":4,"x":0.80,"y":2.89},{"k":4,"x":0.85,"y":2.90},{"k":4,"x":0.90,"y":2.87},{"k":4,"x":0.95,"y":2.84},{"k":4,"x":0.98,"y":2.84},
{"k":4,"x":1.00,"y":3.26},{"k":4,"x":1.03,"y":3.04},{"k":4,"x":1.06,"y":3.03},{"k":4,"x":1.09,"y":3.10},{"k":4,"x":1.12,"y":2.81},{"k":4,"x":1.16,"y":2.85},{"k":4,"x":1.20,"y":3.02},{"k":4,"x":1.24,"y":3.04},{"k":4,"x":1.30,"y":2.89},{"k":4,"x":1.38,"y":2.86},{"k":4,"x":1.46,"y":2.83},{"k":4,"x":1.55,"y":2.89},{"k":4,"x":1.62,"y":3.08},{"k":4,"x":1.68,"y":3.07},{"k":4,"x":1.74,"y":3.03},{"k":4,"x":1.80,"y":2.81},{"k":4,"x":1.85,"y":2.87},{"k":4,"x":1.90,"y":2.85},{"k":4,"x":1.95,"y":2.77},{"k":4,"x":1.98,"y":2.98},
{"k":4,"x":2.01,"y":3.44},{"k":4,"x":2.05,"y":3.31},{"k":4,"x":2.10,"y":3.11},{"k":4,"x":2.15,"y":3.12},{"k":4,"x":2.20,"y":3.10},{"k":4,"x":2.28,"y":2.97},{"k":4,"x":2.38,"y":2.95},{"k":4,"x":2.48,"y":2.82},{"k":4,"x":2.56,"y":2.86},{"k":4,"x":2.63,"y":2.92},{"k":4,"x":2.70,"y":3.03},{"k":4,"x":2.74,"y":3.04},{"k":4,"x":2.80,"y":2.90},{"k":4,"x":2.88,"y":2.92},{"k":4,"x":2.95,"y":2.99},
{"k":4,"x":3.00,"y":3.42},{"k":4,"x":3.05,"y":3.23},{"k":4,"x":3.12,"y":3.09},{"k":4,"x":3.20,"y":3.04},{"k":4,"x":3.28,"y":3.09},{"k":4,"x":3.36,"y":2.99},{"k":4,"x":3.45,"y":2.94},{"k":4,"x":3.55,"y":2.84},{"k":4,"x":3.65,"y":2.82},{"k":4,"x":3.75,"y":2.83},{"k":4,"x":3.85,"y":2.90},{"k":4,"x":3.93,"y":3.00},{"k":4,"x":3.97,"y":3.09},
{"k":4,"x":4.01,"y":3.39},{"k":4,"x":4.07,"y":3.27},{"k":4,"x":4.15,"y":3.15},{"k":4,"x":4.22,"y":3.03},{"k":4,"x":4.30,"y":3.08},{"k":4,"x":4.38,"y":3.08},{"k":4,"x":4.45,"y":2.98},{"k":4,"x":4.52,"y":2.86},{"k":4,"x":4.58,"y":2.78},{"k":4,"x":4.65,"y":2.81},{"k":4,"x":4.75,"y":2.90},{"k":4,"x":4.85,"y":2.98},{"k":4,"x":4.93,"y":3.07},{"k":4,"x":4.97,"y":3.19},
{"k":4,"x":5.01,"y":3.42},{"k":4,"x":5.07,"y":3.21},{"k":4,"x":5.15,"y":3.09},{"k":4,"x":5.25,"y":3.04},{"k":4,"x":5.35,"y":2.99},{"k":4,"x":5.45,"y":2.86},{"k":4,"x":5.52,"y":2.74},{"k":4,"x":5.58,"y":2.58},{"k":4,"x":5.63,"y":2.45},{"k":4,"x":5.69,"y":2.65},{"k":4,"x":5.75,"y":2.86},{"k":4,"x":5.82,"y":3.00},{"k":4,"x":5.90,"y":3.08},{"k":4,"x":5.96,"y":3.22},
{"k":4,"x":6.01,"y":3.45},{"k":4,"x":6.06,"y":3.27},{"k":4,"x":6.14,"y":3.14},{"k":4,"x":6.24,"y":3.05},{"k":4,"x":6.34,"y":3.01},{"k":4,"x":6.44,"y":2.91},{"k":4,"x":6.54,"y":2.88},{"k":4,"x":6.62,"y":2.93},{"k":4,"x":6.68,"y":2.89},{"k":4,"x":6.74,"y":2.85},{"k":4,"x":6.80,"y":2.96},{"k":4,"x":6.88,"y":3.13},{"k":4,"x":6.95,"y":3.31},
{"k":4,"x":7.01,"y":3.52},{"k":4,"x":7.07,"y":3.34},{"k":4,"x":7.15,"y":3.24},{"k":4,"x":7.25,"y":3.19},{"k":4,"x":7.37,"y":3.13},{"k":4,"x":7.47,"y":3.17},{"k":4,"x":7.57,"y":3.29},{"k":4,"x":7.81,"y":3.18},{"k":4,"x":7.88,"y":3.47},{"k":4,"x":8.00,"y":3.65},{"k":4,"x":8.03,"y":3.75},
{"k":4,"x":8.11,"y":3.62},{"k":4,"x":8.19,"y":3.52},{"k":4,"x":8.30,"y":3.60},{"k":4,"x":8.42,"y":3.67},{"k":4,"x":8.56,"y":3.93},{"k":4,"x":8.67,"y":4.01},{"k":4,"x":8.84,"y":3.98},{"k":4,"x":8.95,"y":4.04},{"k":4,"x":9.02,"y":4.17},{"k":4,"x":9.12,"y":4.04},{"k":4,"x":9.23,"y":3.93},{"k":4,"x":9.35,"y":3.83},{"k":4,"x":9.55,"y":3.83},{"k":4,"x":9.69,"y":3.67},{"k":4,"x":9.80,"y":3.52},{"k":4,"x":9.92,"y":3.47},{"k":4,"x":10.01,"y":3.52},{"k":4,"x":10.14,"y":3.29},{"k":4,"x":10.31,"y":3.11},{"k":4,"x":10.42,"y":3.05},{"k":4,"x":10.57,"y":3.00},{"k":4,"x":10.71,"y":2.92},{"k":4,"x":10.86,"y":2.87},{"k":4,"x":10.94,"y":2.85},{"k":4,"x":11.03,"y":3.08},{"k":4,"x":11.10,"y":3.00},{"k":4,"x":11.19,"y":2.79},{"k":4,"x":11.27,"y":2.82},{"k":4,"x":11.38,"y":2.82},{"k":4,"x":11.53,"y":2.85},
{"k":4,"x":11.67,"y":2.90},{"k":4,"x":11.89,"y":2.95},{"k":4,"x":12.03,"y":3.23},{"k":4,"x":12.10,"y":3.26},{"k":4,"x":12.19,"y":3.08},{"k":4,"x":12.23,"y":3.00},{"k":4,"x":12.28,"y":3.05},{"k":4,"x":12.38,"y":2.95},{"k":4,"x":12.51,"y":2.87},{"k":4,"x":12.63,"y":2.90},{"k":4,"x":12.77,"y":2.97},{"k":4,"x":12.91,"y":3.11},{"k":4,"x":13.00,"y":3.31},{"k":4,"x":13.07,"y":3.34},{"k":4,"x":13.19,"y":3.26},{"k":4,"x":13.30,"y":3.11},{"k":4,"x":13.42,"y":2.90},{"k":4,"x":13.51,"y":2.85},{"k":4,"x":13.62,"y":2.90},{"k":4,"x":13.76,"y":3.00},{"k":4,"x":13.90,"y":3.16},{"k":4,"x":14.00,"y":3.31},{"k":4,"x":14.16,"y":3.39},{"k":4,"x":14.27,"y":3.31},{"k":4,"x":14.38,"y":3.11},{"k":4,"x":14.47,"y":2.95},{"k":4,"x":14.58,"y":2.98},{"k":4,"x":14.72,"y":3.08},{"k":4,"x":14.83,"y":3.21},

{"k":5,"x":0.03,"y":3.67},{"k":5,"x":0.06,"y":3.82},{"k":5,"x":0.08,"y":3.78},{"k":5,"x":0.10,"y":3.70},{"k":5,"x":0.13,"y":3.56},{"k":5,"x":0.16,"y":3.73},{"k":5,"x":0.20,"y":3.72},{"k":5,"x":0.25,"y":3.73},{"k":5,"x":0.30,"y":3.70},{"k":5,"x":0.40,"y":3.71},{"k":5,"x":0.50,"y":3.72},{"k":5,"x":0.60,"y":3.73},{"k":5,"x":0.65,"y":3.77},{"k":5,"x":0.71,"y":3.90},{"k":5,"x":0.75,"y":3.89},{"k":5,"x":0.78,"y":3.74},{"k":5,"x":0.80,"y":3.64},{"k":5,"x":0.85,"y":3.65},{"k":5,"x":0.90,"y":3.62},{"k":5,"x":0.95,"y":3.59},{"k":5,"x":0.98,"y":3.60},
{"k":5,"x":1.00,"y":3.98},{"k":5,"x":1.03,"y":3.78},{"k":5,"x":1.06,"y":3.82},{"k":5,"x":1.09,"y":3.86},{"k":5,"x":1.12,"y":3.58},{"k":5,"x":1.16,"y":3.65},{"k":5,"x":1.20,"y":3.76},{"k":5,"x":1.24,"y":3.79},{"k":5,"x":1.30,"y":3.68},{"k":5,"x":1.38,"y":3.62},{"k":5,"x":1.46,"y":3.58},{"k":5,"x":1.55,"y":3.63},{"k":5,"x":1.62,"y":3.83},{"k":5,"x":1.68,"y":3.81},{"k":5,"x":1.74,"y":3.77},{"k":5,"x":1.80,"y":3.58},{"k":5,"x":1.85,"y":3.63},{"k":5,"x":1.90,"y":3.61},{"k":5,"x":1.95,"y":3.55},{"k":5,"x":1.98,"y":3.78},
{"k":5,"x":2.01,"y":4.14},{"k":5,"x":2.05,"y":4.06},{"k":5,"x":2.10,"y":3.87},{"k":5,"x":2.15,"y":3.92},{"k":5,"x":2.20,"y":3.85},{"k":5,"x":2.28,"y":3.75},{"k":5,"x":2.38,"y":3.70},{"k":5,"x":2.48,"y":3.54},{"k":5,"x":2.56,"y":3.62},{"k":5,"x":2.63,"y":3.65},{"k":5,"x":2.70,"y":3.80},{"k":5,"x":2.74,"y":3.78},{"k":5,"x":2.80,"y":3.65},{"k":5,"x":2.88,"y":3.70},{"k":5,"x":2.95,"y":3.75},
{"k":5,"x":3.00,"y":4.09},{"k":5,"x":3.05,"y":3.98},{"k":5,"x":3.12,"y":3.85},{"k":5,"x":3.20,"y":3.80},{"k":5,"x":3.28,"y":3.85},{"k":5,"x":3.36,"y":3.74},{"k":5,"x":3.45,"y":3.68},{"k":5,"x":3.55,"y":3.60},{"k":5,"x":3.65,"y":3.58},{"k":5,"x":3.75,"y":3.60},{"k":5,"x":3.85,"y":3.67},{"k":5,"x":3.93,"y":3.75},{"k":5,"x":3.97,"y":3.85},
{"k":5,"x":4.01,"y":4.09},{"k":5,"x":4.07,"y":4.00},{"k":5,"x":4.15,"y":3.87},{"k":5,"x":4.22,"y":3.80},{"k":5,"x":4.30,"y":3.83},{"k":5,"x":4.38,"y":3.82},{"k":5,"x":4.45,"y":3.70},{"k":5,"x":4.52,"y":3.60},{"k":5,"x":4.58,"y":3.53},{"k":5,"x":4.65,"y":3.57},{"k":5,"x":4.75,"y":3.67},{"k":5,"x":4.85,"y":3.75},{"k":5,"x":4.93,"y":3.83},{"k":5,"x":4.97,"y":3.92},
{"k":5,"x":5.01,"y":4.11},{"k":5,"x":5.07,"y":3.95},{"k":5,"x":5.15,"y":3.85},{"k":5,"x":5.25,"y":3.80},{"k":5,"x":5.35,"y":3.72},{"k":5,"x":5.45,"y":3.58},{"k":5,"x":5.52,"y":3.45},{"k":5,"x":5.57,"y":3.33},{"k":5,"x":5.62,"y":3.26},{"k":5,"x":5.68,"y":3.45},{"k":5,"x":5.74,"y":3.65},{"k":5,"x":5.82,"y":3.78},{"k":5,"x":5.90,"y":3.83},{"k":5,"x":5.96,"y":3.95},
{"k":5,"x":6.01,"y":4.14},{"k":5,"x":6.06,"y":4.00},{"k":5,"x":6.14,"y":3.88},{"k":5,"x":6.24,"y":3.80},{"k":5,"x":6.34,"y":3.75},{"k":5,"x":6.44,"y":3.65},{"k":5,"x":6.54,"y":3.62},{"k":5,"x":6.62,"y":3.67},{"k":5,"x":6.68,"y":3.65},{"k":5,"x":6.74,"y":3.63},{"k":5,"x":6.80,"y":3.73},{"k":5,"x":6.88,"y":3.88},{"k":5,"x":6.95,"y":4.05},
{"k":5,"x":7.01,"y":4.19},{"k":5,"x":7.07,"y":4.08},{"k":5,"x":7.15,"y":4.00},{"k":5,"x":7.25,"y":3.95},{"k":5,"x":7.37,"y":3.88},{"k":5,"x":7.47,"y":3.92},{"k":5,"x":7.57,"y":4.04},{"k":5,"x":7.78,"y":3.93},{"k":5,"x":7.88,"y":4.24},{"k":5,"x":8.00,"y":4.40},{"k":5,"x":8.04,"y":4.45},
{"k":5,"x":8.11,"y":4.40},{"k":5,"x":8.19,"y":4.35},{"k":5,"x":8.30,"y":4.40},{"k":5,"x":8.42,"y":4.45},{"k":5,"x":8.56,"y":4.66},{"k":5,"x":8.67,"y":4.73},{"k":5,"x":8.84,"y":4.71},{"k":5,"x":8.95,"y":4.79},{"k":5,"x":9.02,"y":4.92},{"k":5,"x":9.12,"y":4.81},{"k":5,"x":9.23,"y":4.73},{"k":5,"x":9.35,"y":4.66},{"k":5,"x":9.55,"y":4.61},{"k":5,"x":9.66,"y":4.53},{"k":5,"x":9.80,"y":4.40},{"k":5,"x":9.92,"y":4.29},{"k":5,"x":10.01,"y":4.27},{"k":5,"x":10.14,"y":4.14},{"k":5,"x":10.31,"y":3.98},{"k":5,"x":10.42,"y":3.93},{"k":5,"x":10.57,"y":3.88},{"k":5,"x":10.71,"y":3.83},{"k":5,"x":10.86,"y":3.75},{"k":5,"x":10.94,"y":3.70},{"k":5,"x":11.03,"y":3.83},{"k":5,"x":11.10,"y":3.83},{"k":5,"x":11.17,"y":3.62},{"k":5,"x":11.27,"y":3.60},{"k":5,"x":11.38,"y":3.62},{"k":5,"x":11.53,"y":3.57},
{"k":5,"x":11.67,"y":3.65},{"k":5,"x":11.86,"y":3.65},{"k":5,"x":12.00,"y":3.96},{"k":5,"x":12.07,"y":3.98},{"k":5,"x":12.16,"y":3.88},{"k":5,"x":12.20,"y":3.78},{"k":5,"x":12.26,"y":3.83},{"k":5,"x":12.32,"y":3.78},{"k":5,"x":12.46,"y":3.65},{"k":5,"x":12.58,"y":3.57},{"k":5,"x":12.74,"y":3.68},{"k":5,"x":12.86,"y":3.75},{"k":5,"x":12.97,"y":3.88},{"k":5,"x":13.00,"y":4.01},{"k":5,"x":13.09,"y":4.03},{"k":5,"x":13.20,"y":4.01},{"k":5,"x":13.30,"y":3.88},{"k":5,"x":13.47,"y":3.62},{"k":5,"x":13.58,"y":3.62},{"k":5,"x":13.70,"y":3.73},{"k":5,"x":13.86,"y":3.85},{"k":5,"x":14.00,"y":4.06},{"k":5,"x":14.10,"y":4.11},{"k":5,"x":14.21,"y":4.06},{"k":5,"x":14.30,"y":3.93},{"k":5,"x":14.44,"y":3.73},{"k":5,"x":14.50,"y":3.73},{"k":5,"x":14.58,"y":3.75},{"k":5,"x":14.69,"y":3.85},{"k":5,"x":14.83,"y":3.96},

{"k":6,"x":0.03,"y":4.43},{"k":6,"x":0.06,"y":4.58},{"k":6,"x":0.08,"y":4.51},{"k":6,"x":0.10,"y":4.45},{"k":6,"x":0.13,"y":4.31},{"k":6,"x":0.16,"y":4.48},{"k":6,"x":0.20,"y":4.48},{"k":6,"x":0.25,"y":4.47},{"k":6,"x":0.30,"y":4.45},{"k":6,"x":0.40,"y":4.46},{"k":6,"x":0.50,"y":4.47},{"k":6,"x":0.60,"y":4.48},{"k":6,"x":0.65,"y":4.51},{"k":6,"x":0.71,"y":4.64},{"k":6,"x":0.75,"y":4.62},{"k":6,"x":0.78,"y":4.48},{"k":6,"x":0.80,"y":4.40},{"k":6,"x":0.85,"y":4.40},{"k":6,"x":0.90,"y":4.37},{"k":6,"x":0.95,"y":4.34},{"k":6,"x":0.98,"y":4.37},
{"k":6,"x":1.00,"y":4.68},{"k":6,"x":1.03,"y":4.51},{"k":6,"x":1.06,"y":4.55},{"k":6,"x":1.09,"y":4.60},{"k":6,"x":1.12,"y":4.35},{"k":6,"x":1.16,"y":4.43},{"k":6,"x":1.20,"y":4.52},{"k":6,"x":1.24,"y":4.56},{"k":6,"x":1.30,"y":4.42},{"k":6,"x":1.38,"y":4.37},{"k":6,"x":1.46,"y":4.33},{"k":6,"x":1.55,"y":4.37},{"k":6,"x":1.62,"y":4.58},{"k":6,"x":1.68,"y":4.55},{"k":6,"x":1.74,"y":4.51},{"k":6,"x":1.80,"y":4.35},{"k":6,"x":1.85,"y":4.39},{"k":6,"x":1.90,"y":4.38},{"k":6,"x":1.95,"y":4.32},{"k":6,"x":1.98,"y":4.55},
{"k":6,"x":2.01,"y":4.86},{"k":6,"x":2.05,"y":4.80},{"k":6,"x":2.10,"y":4.61},{"k":6,"x":2.15,"y":4.66},{"k":6,"x":2.20,"y":4.62},{"k":6,"x":2.28,"y":4.50},{"k":6,"x":2.38,"y":4.46},{"k":6,"x":2.48,"y":4.29},{"k":6,"x":2.56,"y":4.38},{"k":6,"x":2.63,"y":4.40},{"k":6,"x":2.70,"y":4.55},{"k":6,"x":2.74,"y":4.54},{"k":6,"x":2.80,"y":4.41},{"k":6,"x":2.88,"y":4.47},{"k":6,"x":2.95,"y":4.51},
{"k":6,"x":3.00,"y":4.79},{"k":6,"x":3.05,"y":4.71},{"k":6,"x":3.12,"y":4.60},{"k":6,"x":3.20,"y":4.58},{"k":6,"x":3.28,"y":4.62},{"k":6,"x":3.36,"y":4.52},{"k":6,"x":3.45,"y":4.44},{"k":6,"x":3.55,"y":4.36},{"k":6,"x":3.65,"y":4.34},{"k":6,"x":3.75,"y":4.37},{"k":6,"x":3.85,"y":4.43},{"k":6,"x":3.93,"y":4.49},{"k":6,"x":3.97,"y":4.57},
{"k":6,"x":4.01,"y":4.81},{"k":6,"x":4.07,"y":4.76},{"k":6,"x":4.15,"y":4.64},{"k":6,"x":4.22,"y":4.57},{"k":6,"x":4.30,"y":4.60},{"k":6,"x":4.38,"y":4.59},{"k":6,"x":4.45,"y":4.47},{"k":6,"x":4.52,"y":4.36},{"k":6,"x":4.58,"y":4.28},{"k":6,"x":4.65,"y":4.33},{"k":6,"x":4.75,"y":4.43},{"k":6,"x":4.85,"y":4.51},{"k":6,"x":4.93,"y":4.58},{"k":6,"x":4.97,"y":4.65},
{"k":6,"x":5.01,"y":4.84},{"k":6,"x":5.07,"y":4.72},{"k":6,"x":5.15,"y":4.62},{"k":6,"x":5.25,"y":4.59},{"k":6,"x":5.35,"y":4.52},{"k":6,"x":5.45,"y":4.37},{"k":6,"x":5.52,"y":4.24},{"k":6,"x":5.60,"y":4.04},{"k":6,"x":5.65,"y":4.20},{"k":6,"x":5.70,"y":4.34},{"k":6,"x":5.76,"y":4.47},{"k":6,"x":5.84,"y":4.54},{"k":6,"x":5.90,"y":4.59},{"k":6,"x":5.96,"y":4.67},
{"k":6,"x":6.01,"y":4.86},{"k":6,"x":6.06,"y":4.77},{"k":6,"x":6.14,"y":4.67},{"k":6,"x":6.24,"y":4.59},{"k":6,"x":6.34,"y":4.53},{"k":6,"x":6.44,"y":4.44},{"k":6,"x":6.54,"y":4.43},{"k":6,"x":6.62,"y":4.46},{"k":6,"x":6.68,"y":4.42},{"k":6,"x":6.74,"y":4.40},{"k":6,"x":6.80,"y":4.49},{"k":6,"x":6.88,"y":4.61},{"k":6,"x":6.95,"y":4.73},
{"k":6,"x":7.01,"y":4.92},{"k":6,"x":7.07,"y":4.84},{"k":6,"x":7.15,"y":4.78},{"k":6,"x":7.25,"y":4.72},{"k":6,"x":7.37,"y":4.63},{"k":6,"x":7.47,"y":4.67},{"k":6,"x":7.57,"y":4.79},{"k":6,"x":7.76,"y":4.71},{"k":6,"x":7.81,"y":4.73},{"k":6,"x":7.93,"y":4.99},{"k":6,"x":8.00,"y":5.15},
{"k":6,"x":8.07,"y":5.17},{"k":6,"x":8.19,"y":4.97},{"k":6,"x":8.30,"y":5.02},{"k":6,"x":8.39,"y":5.04},{"k":6,"x":8.50,"y":5.23},{"k":6,"x":8.61,"y":5.43},{"k":6,"x":8.73,"y":5.46},{"k":6,"x":8.84,"y":5.48},{"k":6,"x":8.95,"y":5.56},{"k":6,"x":9.01,"y":5.67},{"k":6,"x":9.12,"y":5.59},{"k":6,"x":9.23,"y":5.54},{"k":6,"x":9.35,"y":5.41},{"k":6,"x":9.55,"y":5.36},{"k":6,"x":9.69,"y":5.23},{"k":6,"x":9.83,"y":5.10},{"k":6,"x":9.94,"y":5.04},{"k":6,"x":10.03,"y":5.04},{"k":6,"x":10.14,"y":4.97},{"k":6,"x":10.26,"y":4.84},{"k":6,"x":10.42,"y":4.73},{"k":6,"x":10.57,"y":4.68},{"k":6,"x":10.71,"y":4.61},{"k":6,"x":10.86,"y":4.55},{"k":6,"x":10.94,"y":4.55},{"k":6,"x":11.03,"y":4.61},{"k":6,"x":11.10,"y":4.45},{"k":6,"x":11.22,"y":4.40},{"k":6,"x":11.38,"y":4.35},{"k":6,"x":11.53,"y":4.37},
{"k":6,"x":11.65,"y":4.37},{"k":6,"x":11.85,"y":4.40},{"k":6,"x":11.95,"y":4.53},{"k":6,"x":12.01,"y":4.66},{"k":6,"x":12.11,"y":4.61},{"k":6,"x":12.18,"y":4.55},{"k":6,"x":12.26,"y":4.61},{"k":6,"x":12.32,"y":4.53},{"k":6,"x":12.44,"y":4.37},{"k":6,"x":12.58,"y":4.35},{"k":6,"x":12.72,"y":4.43},{"k":6,"x":12.86,"y":4.51},{"k":6,"x":13.00,"y":4.73},{"k":6,"x":13.06,"y":4.76},{"k":6,"x":13.20,"y":4.73},{"k":6,"x":13.28,"y":4.60},{"k":6,"x":13.44,"y":4.40},{"k":6,"x":13.56,"y":4.37},{"k":6,"x":13.70,"y":4.50},{"k":6,"x":13.87,"y":4.63},{"k":6,"x":13.99,"y":4.79},{"k":6,"x":14.10,"y":4.84},{"k":6,"x":14.21,"y":4.81},{"k":6,"x":14.38,"y":4.55},{"k":6,"x":14.47,"y":4.50},{"k":6,"x":14.55,"y":4.53},{"k":6,"x":14.69,"y":4.63},{"k":6,"x":14.80,"y":4.71},

{"k":7,"x":0.03,"y":5.20},{"k":7,"x":0.06,"y":5.33},{"k":7,"x":0.08,"y":5.24},{"k":7,"x":0.10,"y":5.20},{"k":7,"x":0.13,"y":5.05},{"k":7,"x":0.16,"y":5.23},{"k":7,"x":0.20,"y":5.23},{"k":7,"x":0.25,"y":5.22},{"k":7,"x":0.30,"y":5.20},{"k":7,"x":0.40,"y":5.21},{"k":7,"x":0.50,"y":5.22},{"k":7,"x":0.60,"y":5.23},{"k":7,"x":0.65,"y":5.25},{"k":7,"x":0.71,"y":5.38},{"k":7,"x":0.75,"y":5.36},{"k":7,"x":0.78,"y":5.22},{"k":7,"x":0.80,"y":5.16},{"k":7,"x":0.85,"y":5.15},{"k":7,"x":0.90,"y":5.12},{"k":7,"x":0.95,"y":5.09},{"k":7,"x":0.98,"y":5.12},
{"k":7,"x":1.00,"y":5.41},{"k":7,"x":1.03,"y":5.25},{"k":7,"x":1.06,"y":5.28},{"k":7,"x":1.09,"y":5.33},{"k":7,"x":1.12,"y":5.12},{"k":7,"x":1.16,"y":5.20},{"k":7,"x":1.20,"y":5.28},{"k":7,"x":1.24,"y":5.33},{"k":7,"x":1.30,"y":5.17},{"k":7,"x":1.38,"y":5.12},{"k":7,"x":1.46,"y":5.08},{"k":7,"x":1.55,"y":5.12},{"k":7,"x":1.62,"y":5.32},{"k":7,"x":1.68,"y":5.30},{"k":7,"x":1.74,"y":5.25},{"k":7,"x":1.80,"y":5.12},{"k":7,"x":1.85,"y":5.15},{"k":7,"x":1.90,"y":5.15},{"k":7,"x":1.95,"y":5.10},{"k":7,"x":1.98,"y":5.30},
{"k":7,"x":2.01,"y":5.59},{"k":7,"x":2.05,"y":5.54},{"k":7,"x":2.10,"y":5.36},{"k":7,"x":2.15,"y":5.41},{"k":7,"x":2.20,"y":5.38},{"k":7,"x":2.28,"y":5.25},{"k":7,"x":2.38,"y":5.21},{"k":7,"x":2.48,"y":5.04},{"k":7,"x":2.56,"y":5.14},{"k":7,"x":2.63,"y":5.16},{"k":7,"x":2.70,"y":5.30},{"k":7,"x":2.74,"y":5.29},{"k":7,"x":2.80,"y":5.16},{"k":7,"x":2.88,"y":5.22},{"k":7,"x":2.95,"y":5.27},
{"k":7,"x":3.00,"y":5.51},{"k":7,"x":3.05,"y":5.45},{"k":7,"x":3.12,"y":5.35},{"k":7,"x":3.20,"y":5.34},{"k":7,"x":3.28,"y":5.38},{"k":7,"x":3.36,"y":5.28},{"k":7,"x":3.45,"y":5.19},{"k":7,"x":3.55,"y":5.11},{"k":7,"x":3.65,"y":5.09},{"k":7,"x":3.75,"y":5.13},{"k":7,"x":3.85,"y":5.19},{"k":7,"x":3.93,"y":5.23},{"k":7,"x":3.97,"y":5.31},
{"k":7,"x":4.01,"y":5.52},{"k":7,"x":4.07,"y":5.50},{"k":7,"x":4.15,"y":5.40},{"k":7,"x":4.22,"y":5.32},{"k":7,"x":4.30,"y":5.35},{"k":7,"x":4.38,"y":5.34},{"k":7,"x":4.45,"y":5.22},{"k":7,"x":4.52,"y":5.11},{"k":7,"x":4.58,"y":5.03},{"k":7,"x":4.65,"y":5.08},{"k":7,"x":4.75,"y":5.18},{"k":7,"x":4.85,"y":5.26},{"k":7,"x":4.93,"y":5.33},{"k":7,"x":4.97,"y":5.39},
{"k":7,"x":5.01,"y":5.54},{"k":7,"x":5.07,"y":5.46},{"k":7,"x":5.15,"y":5.37},{"k":7,"x":5.25,"y":5.35},{"k":7,"x":5.35,"y":5.28},{"k":7,"x":5.45,"y":5.13},{"k":7,"x":5.52,"y":5.01},{"k":7,"x":5.60,"y":4.82},{"k":7,"x":5.65,"y":4.98},{"k":7,"x":5.70,"y":5.11},{"k":7,"x":5.76,"y":5.22},{"k":7,"x":5.84,"y":5.29},{"k":7,"x":5.90,"y":5.35},{"k":7,"x":5.96,"y":5.42},
{"k":7,"x":6.01,"y":5.59},{"k":7,"x":6.06,"y":5.52},{"k":7,"x":6.14,"y":5.44},{"k":7,"x":6.24,"y":5.36},{"k":7,"x":6.34,"y":5.30},{"k":7,"x":6.44,"y":5.21},{"k":7,"x":6.54,"y":5.21},{"k":7,"x":6.62,"y":5.23},{"k":7,"x":6.68,"y":5.18},{"k":7,"x":6.74,"y":5.15},{"k":7,"x":6.80,"y":5.24},{"k":7,"x":6.88,"y":5.35},{"k":7,"x":6.95,"y":5.46},
{"k":7,"x":7.01,"y":5.61},{"k":7,"x":7.07,"y":5.58},{"k":7,"x":7.15,"y":5.55},{"k":7,"x":7.25,"y":5.48},{"k":7,"x":7.37,"y":5.38},{"k":7,"x":7.47,"y":5.42},{"k":7,"x":7.57,"y":5.54},{"k":7,"x":7.72,"y":5.43},{"k":7,"x":7.79,"y":5.48},{"k":7,"x":7.93,"y":5.74},{"k":7,"x":8.00,"y":5.87},
{"k":7,"x":8.10,"y":5.92},{"k":7,"x":8.27,"y":6.00},{"k":7,"x":8.36,"y":5.92},{"k":7,"x":8.47,"y":6.00},{"k":7,"x":8.59,"y":6.18},{"k":7,"x":8.70,"y":6.16},{"k":7,"x":8.84,"y":6.21},{"k":7,"x":8.95,"y":6.23},{"k":7,"x":9.01,"y":6.36},{"k":7,"x":9.12,"y":6.31},{"k":7,"x":9.23,"y":6.29},{"k":7,"x":9.35,"y":6.18},{"k":7,"x":9.55,"y":6.18},{"k":7,"x":9.69,"y":6.03},{"k":7,"x":9.83,"y":5.90},{"k":7,"x":9.97,"y":5.87},{"k":7,"x":10.03,"y":5.85},{"k":7,"x":10.17,"y":5.69},{"k":7,"x":10.31,"y":5.59},{"k":7,"x":10.42,"y":5.54},{"k":7,"x":10.57,"y":5.48},{"k":7,"x":10.71,"y":5.43},{"k":7,"x":10.85,"y":5.33},{"k":7,"x":10.94,"y":5.36},{"k":7,"x":11.03,"y":5.41},{"k":7,"x":11.10,"y":5.28},{"k":7,"x":11.27,"y":5.25},{"k":7,"x":11.38,"y":5.15},{"k":7,"x":11.53,"y":5.12},
{"k":7,"x":11.65,"y":5.13},{"k":7,"x":11.82,"y":5.12},{"k":7,"x":11.92,"y":5.28},{"k":7,"x":12.00,"y":5.36},{"k":7,"x":12.09,"y":5.33},{"k":7,"x":12.21,"y":5.33},{"k":7,"x":12.26,"y":5.28},{"k":7,"x":12.40,"y":5.13},{"k":7,"x":12.54,"y":5.07},{"k":7,"x":12.68,"y":5.17},{"k":7,"x":12.82,"y":5.28},{"k":7,"x":12.93,"y":5.38},{"k":7,"x":13.00,"y":5.44},{"k":7,"x":13.19,"y":5.51},{"k":7,"x":13.25,"y":5.46},{"k":7,"x":13.39,"y":5.15},{"k":7,"x":13.51,"y":5.12},{"k":7,"x":13.59,"y":5.17},{"k":7,"x":13.76,"y":5.33},{"k":7,"x":13.90,"y":5.46},{"k":7,"x":14.00,"y":5.56},{"k":7,"x":14.18,"y":5.61},{"k":7,"x":14.27,"y":5.56},{"k":7,"x":14.38,"y":5.30},{"k":7,"x":14.47,"y":5.28},{"k":7,"x":14.55,"y":5.33},{"k":7,"x":14.66,"y":5.38},{"k":7,"x":14.78,"y":5.43},

{"k":8,"x":0.03,"y":5.95},{"k":8,"x":0.06,"y":6.08},{"k":8,"x":0.08,"y":5.99},{"k":8,"x":0.10,"y":5.95},{"k":8,"x":0.13,"y":5.80},{"k":8,"x":0.16,"y":5.98},{"k":8,"x":0.20,"y":5.98},{"k":8,"x":0.25,"y":5.97},{"k":8,"x":0.30,"y":5.95},{"k":8,"x":0.40,"y":5.96},{"k":8,"x":0.50,"y":5.97},{"k":8,"x":0.60,"y":5.98},{"k":8,"x":0.65,"y":6.00},{"k":8,"x":0.71,"y":6.13},{"k":8,"x":0.75,"y":6.11},{"k":8,"x":0.78,"y":5.97},{"k":8,"x":0.80,"y":5.92},{"k":8,"x":0.85,"y":5.90},{"k":8,"x":0.90,"y":5.87},{"k":8,"x":0.95,"y":5.84},{"k":8,"x":0.98,"y":5.88},
{"k":8,"x":1.00,"y":6.16},{"k":8,"x":1.03,"y":6.00},{"k":8,"x":1.06,"y":6.03},{"k":8,"x":1.09,"y":6.08},{"k":8,"x":1.12,"y":5.87},{"k":8,"x":1.16,"y":5.95},{"k":8,"x":1.20,"y":6.03},{"k":8,"x":1.24,"y":6.08},{"k":8,"x":1.30,"y":5.92},{"k":8,"x":1.38,"y":5.87},{"k":8,"x":1.46,"y":5.83},{"k":8,"x":1.55,"y":5.87},{"k":8,"x":1.62,"y":6.07},{"k":8,"x":1.68,"y":6.05},{"k":8,"x":1.74,"y":6.00},{"k":8,"x":1.80,"y":5.87},{"k":8,"x":1.85,"y":5.90},{"k":8,"x":1.90,"y":5.90},{"k":8,"x":1.95,"y":5.85},{"k":8,"x":1.98,"y":6.06},
{"k":8,"x":2.01,"y":6.34},{"k":8,"x":2.05,"y":6.28},{"k":8,"x":2.10,"y":6.10},{"k":8,"x":2.15,"y":6.15},{"k":8,"x":2.20,"y":6.13},{"k":8,"x":2.28,"y":6.00},{"k":8,"x":2.38,"y":5.97},{"k":8,"x":2.48,"y":5.79},{"k":8,"x":2.56,"y":5.90},{"k":8,"x":2.63,"y":5.91},{"k":8,"x":2.70,"y":6.05},{"k":8,"x":2.74,"y":6.05},{"k":8,"x":2.80,"y":5.92},{"k":8,"x":2.88,"y":5.98},{"k":8,"x":2.95,"y":6.03},
{"k":8,"x":3.00,"y":6.23},{"k":8,"x":3.05,"y":6.20},{"k":8,"x":3.12,"y":6.10},{"k":8,"x":3.20,"y":6.09},{"k":8,"x":3.28,"y":6.13},{"k":8,"x":3.36,"y":6.03},{"k":8,"x":3.45,"y":5.94},{"k":8,"x":3.55,"y":5.86},{"k":8,"x":3.65,"y":5.84},{"k":8,"x":3.75,"y":5.88},{"k":8,"x":3.85,"y":5.94},{"k":8,"x":3.93,"y":5.98},{"k":8,"x":3.97,"y":6.06},
{"k":8,"x":4.01,"y":6.27},{"k":8,"x":4.07,"y":6.25},{"k":8,"x":4.15,"y":6.15},{"k":8,"x":4.22,"y":6.07},{"k":8,"x":4.30,"y":6.10},{"k":8,"x":4.38,"y":6.09},{"k":8,"x":4.45,"y":5.97},{"k":8,"x":4.52,"y":5.86},{"k":8,"x":4.58,"y":5.78},{"k":8,"x":4.65,"y":5.83},{"k":8,"x":4.75,"y":5.93},{"k":8,"x":4.85,"y":6.02},{"k":8,"x":4.93,"y":6.08},{"k":8,"x":4.97,"y":6.14},
{"k":8,"x":5.01,"y":6.29},{"k":8,"x":5.07,"y":6.22},{"k":8,"x":5.15,"y":6.13},{"k":8,"x":5.25,"y":6.11},{"k":8,"x":5.35,"y":6.05},{"k":8,"x":5.45,"y":5.90},{"k":8,"x":5.52,"y":5.78},{"k":8,"x":5.58,"y":5.60},{"k":8,"x":5.63,"y":5.74},{"k":8,"x":5.68,"y":5.86},{"k":8,"x":5.74,"y":5.97},{"k":8,"x":5.82,"y":6.04},{"k":8,"x":5.90,"y":6.10},{"k":8,"x":5.96,"y":6.17},
{"k":8,"x":6.01,"y":6.31},{"k":8,"x":6.06,"y":6.27},{"k":8,"x":6.14,"y":6.20},{"k":8,"x":6.24,"y":6.12},{"k":8,"x":6.34,"y":6.06},{"k":8,"x":6.44,"y":5.97},{"k":8,"x":6.54,"y":5.98},{"k":8,"x":6.62,"y":5.99},{"k":8,"x":6.68,"y":5.94},{"k":8,"x":6.74,"y":5.90},{"k":8,"x":6.80,"y":5.99},{"k":8,"x":6.88,"y":6.10},{"k":8,"x":6.95,"y":6.22},
{"k":8,"x":7.01,"y":6.36},{"k":8,"x":7.07,"y":6.33},{"k":8,"x":7.15,"y":6.30},{"k":8,"x":7.25,"y":6.24},{"k":8,"x":7.37,"y":6.13},{"k":8,"x":7.47,"y":6.17},{"k":8,"x":7.57,"y":6.26},{"k":8,"x":7.72,"y":6.18},{"k":8,"x":7.79,"y":6.29},{"k":8,"x":7.93,"y":6.42},{"k":8,"x":8.00,"y":6.60},
{"k":8,"x":8.10,"y":6.67},{"k":8,"x":8.25,"y":6.73},{"k":8,"x":8.35,"y":6.67},{"k":8,"x":8.45,"y":6.73},{"k":8,"x":8.56,"y":6.88},{"k":8,"x":8.67,"y":6.88},{"k":8,"x":8.79,"y":6.91},{"k":8,"x":8.93,"y":6.98},{"k":8,"x":9.00,"y":7.06},{"k":8,"x":9.12,"y":7.04},{"k":8,"x":9.23,"y":7.04},{"k":8,"x":9.41,"y":6.91},{"k":8,"x":9.53,"y":6.96},{"k":8,"x":9.63,"y":6.88},{"k":8,"x":9.78,"y":6.78},{"k":8,"x":9.92,"y":6.70},{"k":8,"x":10.03,"y":6.67},{"k":8,"x":10.14,"y":6.60},{"k":8,"x":10.31,"y":6.47},{"k":8,"x":10.42,"y":6.36},{"k":8,"x":10.56,"y":6.31},{"k":8,"x":10.69,"y":6.26},{"k":8,"x":10.82,"y":6.18},{"k":8,"x":10.93,"y":6.16},{"k":8,"x":11.02,"y":6.23},{"k":8,"x":11.11,"y":6.13},{"k":8,"x":11.22,"y":6.11},{"k":8,"x":11.36,"y":6.00},{"k":8,"x":11.53,"y":5.92},
{"k":8,"x":11.67,"y":5.92},{"k":8,"x":11.80,"y":5.88},{"k":8,"x":11.89,"y":6.00},{"k":8,"x":11.99,"y":6.08},{"k":8,"x":12.03,"y":6.11},{"k":8,"x":12.10,"y":6.05},{"k":8,"x":12.19,"y":6.12},{"k":8,"x":12.26,"y":6.03},{"k":8,"x":12.38,"y":5.87},{"k":8,"x":12.54,"y":5.82},{"k":8,"x":12.65,"y":5.87},{"k":8,"x":12.77,"y":5.97},{"k":8,"x":12.91,"y":6.08},{"k":8,"x":13.02,"y":6.18},{"k":8,"x":13.17,"y":6.23},{"k":8,"x":13.25,"y":6.21},{"k":8,"x":13.36,"y":5.95},{"k":8,"x":13.45,"y":5.90},{"k":8,"x":13.53,"y":5.92},{"k":8,"x":13.65,"y":6.00},{"k":8,"x":13.82,"y":6.13},{"k":8,"x":13.99,"y":6.26},{"k":8,"x":14.13,"y":6.34},{"k":8,"x":14.24,"y":6.31},{"k":8,"x":14.35,"y":6.05},{"k":8,"x":14.44,"y":6.00},{"k":8,"x":14.52,"y":6.03},{"k":8,"x":14.64,"y":6.10},{"k":8,"x":14.75,"y":6.18},

{"k":9,"x":0.03,"y":6.70},{"k":9,"x":0.06,"y":6.83},{"k":9,"x":0.08,"y":6.74},{"k":9,"x":0.10,"y":6.70},{"k":9,"x":0.13,"y":6.55},{"k":9,"x":0.16,"y":6.73},{"k":9,"x":0.20,"y":6.73},{"k":9,"x":0.25,"y":6.72},{"k":9,"x":0.30,"y":6.70},{"k":9,"x":0.40,"y":6.71},{"k":9,"x":0.50,"y":6.72},{"k":9,"x":0.60,"y":6.73},{"k":9,"x":0.65,"y":6.75},{"k":9,"x":0.71,"y":6.88},{"k":9,"x":0.75,"y":6.86},{"k":9,"x":0.78,"y":6.72},{"k":9,"x":0.80,"y":6.67},{"k":9,"x":0.85,"y":6.65},{"k":9,"x":0.90,"y":6.62},{"k":9,"x":0.95,"y":6.59},{"k":9,"x":0.98,"y":6.64},
{"k":9,"x":1.00,"y":6.88},{"k":9,"x":1.03,"y":6.75},{"k":9,"x":1.06,"y":6.78},{"k":9,"x":1.09,"y":6.83},{"k":9,"x":1.12,"y":6.62},{"k":9,"x":1.16,"y":6.70},{"k":9,"x":1.20,"y":6.78},{"k":9,"x":1.24,"y":6.83},{"k":9,"x":1.30,"y":6.67},{"k":9,"x":1.38,"y":6.62},{"k":9,"x":1.46,"y":6.58},{"k":9,"x":1.55,"y":6.62},{"k":9,"x":1.62,"y":6.82},{"k":9,"x":1.68,"y":6.80},{"k":9,"x":1.74,"y":6.75},{"k":9,"x":1.80,"y":6.62},{"k":9,"x":1.85,"y":6.65},{"k":9,"x":1.90,"y":6.65},{"k":9,"x":1.95,"y":6.60},{"k":9,"x":1.98,"y":6.83},
{"k":9,"x":2.01,"y":7.04},{"k":9,"x":2.05,"y":7.03},{"k":9,"x":2.10,"y":6.85},{"k":9,"x":2.15,"y":6.90},{"k":9,"x":2.20,"y":6.88},{"k":9,"x":2.28,"y":6.75},{"k":9,"x":2.38,"y":6.72},{"k":9,"x":2.48,"y":6.54},{"k":9,"x":2.56,"y":6.65},{"k":9,"x":2.63,"y":6.66},{"k":9,"x":2.70,"y":6.80},{"k":9,"x":2.74,"y":6.80},{"k":9,"x":2.80,"y":6.67},{"k":9,"x":2.88,"y":6.73},{"k":9,"x":2.95,"y":6.78},
{"k":9,"x":3.00,"y":6.86},{"k":9,"x":3.05,"y":6.94},{"k":9,"x":3.12,"y":6.85},{"k":9,"x":3.20,"y":6.85},{"k":9,"x":3.28,"y":6.89},{"k":9,"x":3.36,"y":6.79},{"k":9,"x":3.45,"y":6.70},{"k":9,"x":3.55,"y":6.62},{"k":9,"x":3.65,"y":6.60},{"k":9,"x":3.75,"y":6.65},{"k":9,"x":3.85,"y":6.70},{"k":9,"x":3.93,"y":6.73},{"k":9,"x":3.97,"y":6.80},
{"k":9,"x":4.01,"y":6.92},{"k":9,"x":4.07,"y":7.01},{"k":9,"x":4.15,"y":6.91},{"k":9,"x":4.22,"y":6.83},{"k":9,"x":4.30,"y":6.86},{"k":9,"x":4.38,"y":6.85},{"k":9,"x":4.45,"y":6.73},{"k":9,"x":4.52,"y":6.62},{"k":9,"x":4.58,"y":6.53},{"k":9,"x":4.65,"y":6.58},{"k":9,"x":4.75,"y":6.68},{"k":9,"x":4.85,"y":6.77},{"k":9,"x":4.93,"y":6.83},{"k":9,"x":4.97,"y":6.88},
{"k":9,"x":5.01,"y":6.92},{"k":9,"x":5.07,"y":6.98},{"k":9,"x":5.15,"y":6.89},{"k":9,"x":5.25,"y":6.88},{"k":9,"x":5.35,"y":6.82},{"k":9,"x":5.45,"y":6.68},{"k":9,"x":5.52,"y":6.55},{"k":9,"x":5.58,"y":6.37},{"k":9,"x":5.63,"y":6.50},{"k":9,"x":5.68,"y":6.62},{"k":9,"x":5.74,"y":6.73},{"k":9,"x":5.82,"y":6.79},{"k":9,"x":5.90,"y":6.85},{"k":9,"x":5.96,"y":6.91},
{"k":9,"x":6.01,"y":6.95},{"k":9,"x":6.06,"y":7.03},{"k":9,"x":6.14,"y":6.96},{"k":9,"x":6.24,"y":6.88},{"k":9,"x":6.34,"y":6.82},{"k":9,"x":6.44,"y":6.73},{"k":9,"x":6.54,"y":6.75},{"k":9,"x":6.62,"y":6.75},{"k":9,"x":6.68,"y":6.70},{"k":9,"x":6.74,"y":6.67},{"k":9,"x":6.80,"y":6.75},{"k":9,"x":6.88,"y":6.85},{"k":9,"x":6.95,"y":6.95},
{"k":9,"x":7.01,"y":7.01},{"k":9,"x":7.07,"y":7.09},{"k":9,"x":7.15,"y":7.08},{"k":9,"x":7.25,"y":7.03},{"k":9,"x":7.35,"y":6.92},{"k":9,"x":7.45,"y":6.95},{"k":9,"x":7.57,"y":7.04},{"k":9,"x":7.65,"y":6.98},{"k":9,"x":7.72,"y":6.96},{"k":9,"x":7.80,"y":7.04},{"k":9,"x":7.90,"y":7.14},{"k":9,"x":8.00,"y":7.37},
{"k":9,"x":8.08,"y":7.42},{"k":9,"x":8.22,"y":7.48},{"k":9,"x":8.32,"y":7.42},{"k":9,"x":8.43,"y":7.48},{"k":9,"x":8.54,"y":7.62},{"k":9,"x":8.67,"y":7.61},{"k":9,"x":8.79,"y":7.66},{"k":9,"x":8.93,"y":7.73},{"k":9,"x":9.01,"y":7.79},{"k":9,"x":9.12,"y":7.79},{"k":9,"x":9.23,"y":7.73},{"k":9,"x":9.32,"y":7.72},{"k":9,"x":9.41,"y":7.66},{"k":9,"x":9.53,"y":7.71},{"k":9,"x":9.63,"y":7.61},{"k":9,"x":9.78,"y":7.56},{"k":9,"x":9.92,"y":7.48},{"k":9,"x":10.03,"y":7.48},{"k":9,"x":10.14,"y":7.37},{"k":9,"x":10.31,"y":7.27},{"k":9,"x":10.42,"y":7.14},{"k":9,"x":10.56,"y":7.14},{"k":9,"x":10.69,"y":7.04},{"k":9,"x":10.82,"y":7.01},{"k":9,"x":10.93,"y":6.98},{"k":9,"x":11.02,"y":7.04},{"k":9,"x":11.11,"y":6.93},{"k":9,"x":11.22,"y":6.91},{"k":9,"x":11.36,"y":6.78},{"k":9,"x":11.53,"y":6.73},
{"k":9,"x":11.65,"y":6.74},{"k":9,"x":11.78,"y":6.70},{"k":9,"x":11.89,"y":6.78},{"k":9,"x":12.01,"y":6.82},{"k":9,"x":12.09,"y":6.80},{"k":9,"x":12.18,"y":6.86},{"k":9,"x":12.26,"y":6.81},{"k":9,"x":12.38,"y":6.62},{"k":9,"x":12.51,"y":6.58},{"k":9,"x":12.63,"y":6.64},{"k":9,"x":12.77,"y":6.75},{"k":9,"x":12.91,"y":6.86},{"k":9,"x":13.02,"y":6.91},{"k":9,"x":13.14,"y":6.98},{"k":9,"x":13.22,"y":6.94},{"k":9,"x":13.36,"y":6.67},{"k":9,"x":13.51,"y":6.63},{"k":9,"x":13.65,"y":6.75},{"k":9,"x":13.82,"y":6.88},{"k":9,"x":13.99,"y":6.98},{"k":9,"x":14.10,"y":7.06},{"k":9,"x":14.20,"y":7.08},{"k":9,"x":14.27,"y":6.98},{"k":9,"x":14.38,"y":6.83},{"k":9,"x":14.50,"y":6.78},{"k":9,"x":14.61,"y":6.86},{"k":9,"x":14.72,"y":6.93}
    ]
  },
  "layer": [
    {
      "data": {"name": "curves"},
      "mark": {"type": "line", "color": "#0000ff", "strokeWidth": 4.5},
      "encoding": {
        "x": {"field": "x", "type": "quantitative", "scale": {"domain": [-0.712, 15.725], "nice": false, "zero": false}, "axis": null},
        "y": {"field": "y", "type": "quantitative", "scale": {"domain": [-1.31, 8.234], "nice": false, "zero": false}, "axis": null},
        "detail": {"field": "k", "type": "nominal"}
      }
    },
    {
      "data": {"name": "integers"},
      "mark": {"type": "rule", "color": "black", "strokeWidth": 3.5, "strokeDash": [16, 8]},
      "encoding": {"x": {"field": "n", "type": "quantitative", "axis": null}}
    },
    {
      "data": {"name": "xticks"},
      "mark": {"type": "rule", "color": "black", "strokeWidth": 2.5},
      "encoding": {"x": {"field": "t", "type": "quantitative", "axis": null}, "y": {"datum": -1.31, "type": "quantitative", "axis": null}, "y2": {"datum": -1.131}}
    },
    {
      "data": {"name": "yticks"},
      "mark": {"type": "rule", "color": "black", "strokeWidth": 2.5},
      "encoding": {"y": {"field": "t", "type": "quantitative", "axis": null}, "x": {"datum": -0.712, "type": "quantitative", "axis": null}, "x2": {"datum": -0.525}}
    },
    {
      "data": {"name": "xticks"},
      "mark": {"type": "text", "font": "Liberation Serif", "fontSize": 74, "align": "center", "baseline": "alphabetic", "color": "black"},
      "encoding": {"x": {"field": "t", "type": "quantitative", "axis": null}, "y": {"datum": -2.02, "type": "quantitative", "axis": null}, "text": {"field": "t", "type": "quantitative", "format": "d"}}
    },
    {
      "data": {"name": "yticks"},
      "mark": {"type": "text", "font": "Liberation Serif", "fontSize": 74, "align": "right", "baseline": "middle", "color": "black"},
      "encoding": {"y": {"field": "t", "type": "quantitative", "axis": null}, "x": {"datum": -0.916, "type": "quantitative", "axis": null}, "text": {"field": "t", "type": "quantitative", "format": "d"}}
    },
    {
      "data": {"values": [{}]},
      "mark": {"type": "text", "text": "L", "font": "Liberation Serif", "fontSize": 86, "fontStyle": "italic", "align": "left", "baseline": "alphabetic", "color": "black"},
      "encoding": {"x": {"datum": -0.204, "type": "quantitative", "axis": null}, "y": {"datum": 8.405, "type": "quantitative", "axis": null}}
    },
    {
      "data": {"values": [{}]},
      "mark": {"type": "text", "text": "wall", "font": "Liberation Serif", "fontSize": 66, "align": "left", "baseline": "alphabetic", "color": "black"},
      "encoding": {"x": {"datum": 0.27, "type": "quantitative", "axis": null}, "y": {"datum": 8.31, "type": "quantitative", "axis": null}}
    },
    {
      "data": {"values": [{}]},
      "mark": {"type": "text", "text": "=", "font": "Liberation Serif", "fontSize": 86, "align": "center", "baseline": "alphabetic", "color": "black"},
      "encoding": {"x": {"datum": 1.90, "type": "quantitative", "axis": null}, "y": {"datum": 8.39, "type": "quantitative", "axis": null}}
    },
    {
      "data": {"values": [{}]},
      "mark": {"type": "text", "text": "0", "font": "Liberation Serif", "fontSize": 86, "align": "center", "baseline": "alphabetic", "color": "black"},
      "encoding": {"x": {"datum": 2.629, "type": "quantitative", "axis": null}, "y": {"datum": 8.39, "type": "quantitative", "axis": null}}
    },
    {
      "data": {"values": [{}]},
      "mark": {"type": "text", "text": "L", "font": "Liberation Serif", "fontSize": 92, "fontStyle": "italic", "align": "left", "baseline": "alphabetic", "color": "black"},
      "encoding": {"x": {"datum": 6.141, "type": "quantitative", "axis": null}, "y": {"datum": -2.734, "type": "quantitative", "axis": null}}
    },
    {
      "data": {"values": [{}]},
      "mark": {"type": "text", "text": "sd", "font": "Liberation Serif", "fontSize": 64, "align": "left", "baseline": "alphabetic", "color": "black"},
      "encoding": {"x": {"datum": 6.60, "type": "quantitative", "axis": null}, "y": {"datum": -2.84, "type": "quantitative", "axis": null}}
    },
    {
      "data": {"values": [{}]},
      "mark": {"type": "text", "text": "/", "font": "Liberation Serif", "fontSize": 92, "align": "center", "baseline": "alphabetic", "color": "black"},
      "encoding": {"x": {"datum": 7.36, "type": "quantitative", "axis": null}, "y": {"datum": -2.775, "type": "quantitative", "axis": null}}
    },
    {
      "data": {"values": [{}]},
      "mark": {"type": "text", "text": "d", "font": "Liberation Serif", "fontSize": 92, "fontStyle": "italic", "align": "left", "baseline": "alphabetic", "color": "black"},
      "encoding": {"x": {"datum": 7.64, "type": "quantitative", "axis": null}, "y": {"datum": -2.718, "type": "quantitative", "axis": null}}
    },
    {
      "data": {"values": [{}]},
      "mark": {"type": "text", "text": "c", "font": "Liberation Serif", "fontSize": 64, "fontStyle": "italic", "align": "left", "baseline": "alphabetic", "color": "black"},
      "encoding": {"x": {"datum": 8.02, "type": "quantitative", "axis": null}, "y": {"datum": -2.84, "type": "quantitative", "axis": null}}
    },
    {
      "data": {"values": [{}]},
      "mark": {"type": "text", "text": "R", "font": "Liberation Serif", "fontSize": 84, "fontStyle": "italic", "angle": 270, "align": "left", "baseline": "alphabetic", "color": "black"},
      "encoding": {"x": {"datum": -1.535, "type": "quantitative", "axis": null}, "y": {"datum": 1.237, "type": "quantitative", "axis": null}}
    },
    {
      "data": {"values": [{}]},
      "mark": {"type": "text", "text": "nl", "font": "Liberation Serif", "fontSize": 60, "angle": 270, "align": "left", "baseline": "alphabetic", "color": "black"},
      "encoding": {"x": {"datum": -1.433, "type": "quantitative", "axis": null}, "y": {"datum": 1.83, "type": "quantitative", "axis": null}}
    },
    {
      "data": {"values": [{}]},
      "mark": {"type": "text", "text": "(arb. units)", "font": "Liberation Serif", "fontSize": 84, "angle": 270, "align": "left", "baseline": "alphabetic", "color": "black"},
      "encoding": {"x": {"datum": -1.535, "type": "quantitative", "axis": null}, "y": {"datum": 2.40, "type": "quantitative", "axis": null}}
    },
    {
      "data": {"values": [{}]},
      "mark": {"type": "text", "text": "0.02", "font": "Liberation Serif", "fontSize": 78, "align": "left", "baseline": "alphabetic", "color": "black"},
      "encoding": {"x": {"datum": 15.768, "type": "quantitative", "axis": null}, "y": {"datum": 6.705, "type": "quantitative", "axis": null}}
    },
    {
      "data": {"values": [{}]},
      "mark": {"type": "text", "text": "L", "font": "Liberation Serif", "fontSize": 78, "fontStyle": "italic", "align": "left", "baseline": "alphabetic", "color": "black"},
      "encoding": {"x": {"datum": 16.92, "type": "quantitative", "axis": null}, "y": {"datum": 6.705, "type": "quantitative", "axis": null}}
    },
    {
      "data": {"values": [{}]},
      "mark": {"type": "text", "text": "0.002", "font": "Liberation Serif", "fontSize": 78, "align": "left", "baseline": "alphabetic", "color": "black"},
      "encoding": {"x": {"datum": 15.785, "type": "quantitative", "axis": null}, "y": {"datum": -0.252, "type": "quantitative", "axis": null}}
    },
    {
      "data": {"values": [{}]},
      "mark": {"type": "text", "text": "L", "font": "Liberation Serif", "fontSize": 78, "fontStyle": "italic", "align": "left", "baseline": "alphabetic", "color": "black"},
      "encoding": {"x": {"datum": 17.27, "type": "quantitative", "axis": null}, "y": {"datum": -0.252, "type": "quantitative", "axis": null}}
    },
    {
      "data": {"values": [{}]},
      "mark": {"type": "rule", "color": "black", "strokeWidth": 3.5},
      "encoding": {"x": {"datum": 16.064, "type": "quantitative", "axis": null}, "y": {"datum": 3.718, "type": "quantitative", "axis": null}, "y2": {"datum": 4.70}}
    },
    {
      "data": {"values": [{}]},
      "mark": {"type": "point", "shape": "triangle-up", "size": 1089, "filled": true, "color": "black", "opacity": 1},
      "encoding": {"x": {"datum": 16.064, "type": "quantitative", "axis": null}, "y": {"datum": 4.784, "type": "quantitative", "axis": null}}
    },
    {
      "data": {"values": [{}]},
      "mark": {"type": "text", "text": "w", "font": "Liberation Serif", "fontSize": 76, "fontStyle": "italic", "angle": 270, "align": "center", "baseline": "alphabetic", "color": "black"},
      "encoding": {"x": {"datum": 16.19, "type": "quantitative", "axis": null}, "y": {"datum": 3.043, "type": "quantitative", "axis": null}}
    }
  ],
  "config": {
    "view": {"stroke": "black", "strokeWidth": 3},
    "font": "Liberation Serif"
  }
}
